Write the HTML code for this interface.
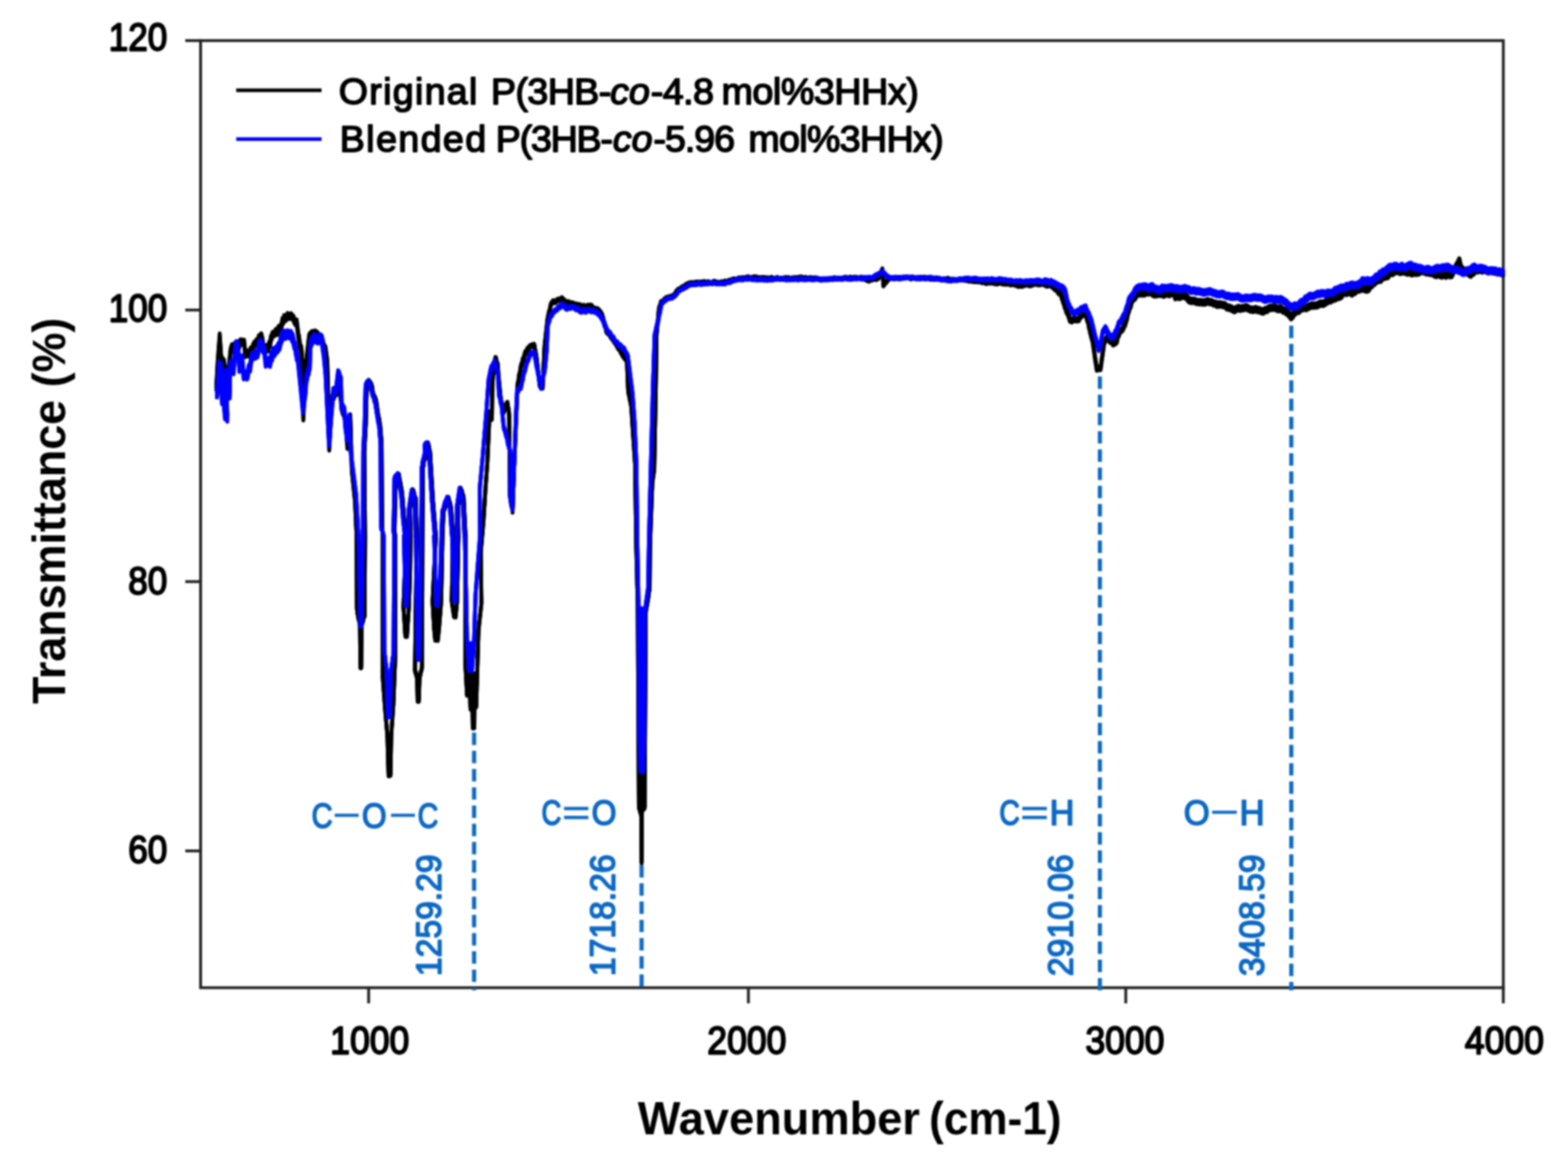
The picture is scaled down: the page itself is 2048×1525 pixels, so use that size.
<!DOCTYPE html>
<html lang="en"><head><meta charset="utf-8"><title>FTIR spectra</title>
<style>
html,body{margin:0;padding:0;background:#fff;width:2048px;height:1525px;overflow:hidden}
svg{display:block;filter:blur(0.8px)}
text{font-family:"Liberation Sans", Arial, Helvetica, sans-serif}
.tick{font-size:50px;fill:#000;stroke:#000;stroke-width:2.3px;paint-order:stroke;stroke-linejoin:round}
.leg{font-size:49px;fill:#000;stroke:#000;stroke-width:2px;paint-order:stroke;stroke-linejoin:round}
.ttl{font-weight:bold;fill:#000}
.ann{fill:#0d69c4;stroke:#0d69c4;stroke-width:2px;stroke-linejoin:round}
.annd{fill:#0d69c4;stroke:#0d69c4;stroke-width:0.9px}
</style></head><body>
<svg width="2048" height="1525" viewBox="0 0 2048 1525">
<rect width="2048" height="1525" fill="#fff"/>
<rect x="262" y="53" width="1701.5" height="1236.6" fill="none" stroke="#222" stroke-width="3.7"/>
<line x1="481.5" y1="1289.6" x2="481.5" y2="1310" stroke="#222" stroke-width="3.7"/>
<line x1="977.5" y1="1289.6" x2="977.5" y2="1310" stroke="#222" stroke-width="3.7"/>
<line x1="1470.4" y1="1289.6" x2="1470.4" y2="1310" stroke="#222" stroke-width="3.7"/>
<line x1="1963.5" y1="1289.6" x2="1963.5" y2="1310" stroke="#222" stroke-width="3.7"/>
<line x1="242" y1="53" x2="262" y2="53" stroke="#222" stroke-width="3.7"/>
<line x1="242" y1="404.8" x2="262" y2="404.8" stroke="#222" stroke-width="3.7"/>
<line x1="242" y1="759.4" x2="262" y2="759.4" stroke="#222" stroke-width="3.7"/>
<line x1="242" y1="1111" x2="262" y2="1111" stroke="#222" stroke-width="3.7"/>
<path d="M282.5,504.2 L284.5,468.7 L287.0,435.3 L288.8,463.4 L290.6,467.6 L292.5,469.4 L296.2,503.4 L301.2,454.8 L302.9,449.4 L304.6,450.9 L306.2,448.4 L308.3,445.7 L310.4,447.7 L312.5,448.1 L313.8,443.2 L315.0,442.9 L316.9,443.7 L318.8,443.4 L320.5,460.0 L322.8,457.5 L325.2,459.3 L327.5,453.7 L329.1,454.8 L330.6,449.2 L332.2,446.1 L333.8,445.1 L335.2,442.7 L336.8,443.4 L338.2,437.4 L339.8,437.5 L341.2,435.1 L341.7,436.5 L342.1,440.1 L342.5,439.7 L342.9,442.2 L343.3,445.5 L343.8,450.2 L345.8,450.2 L347.9,450.4 L350.0,452.5 L350.8,449.5 L351.6,446.1 L352.3,446.6 L353.1,443.5 L353.9,438.3 L354.7,437.7 L355.5,435.0 L356.2,433.2 L358.3,432.8 L360.4,429.4 L362.5,431.0 L363.8,425.6 L365.0,425.6 L366.2,425.7 L367.5,421.5 L368.2,420.0 L369.0,415.0 L369.8,416.6 L370.5,414.9 L371.2,411.2 L373.4,412.7 L375.6,408.7 L377.8,410.3 L380.0,408.8 L381.5,410.8 L383.0,411.8 L384.5,415.8 L386.0,418.2 L387.5,417.2 L390.0,437.7 L390.5,437.2 L391.1,443.5 L391.6,445.7 L392.1,450.3 L392.7,451.7 L393.2,451.0 L393.8,454.5 L395.5,480.2 L396.2,542.7 L398.8,479.7 L403.8,436.5 L405.6,433.8 L407.5,432.2 L409.4,435.2 L411.2,431.4 L413.4,432.3 L415.6,434.8 L417.8,439.2 L420.0,437.5 L420.8,440.5 L421.7,443.4 L422.5,447.7 L423.3,449.6 L424.2,452.2 L425.0,451.8 L427.5,469.6 L430.0,582.1 L433.8,515.4 L435.8,515.0 L437.9,510.1 L440.0,509.3 L442.5,489.4 L446.2,529.4 L447.1,532.2 L447.9,535.2 L448.8,536.4 L449.6,537.8 L450.4,542.0 L451.2,544.6 L453.8,579.9 L457.5,540.8 L459.5,611.0 L463.8,654.0 L465.8,699.2 L466.2,794.3 L466.7,794.7 L467.1,800.6 L467.6,802.6 L468.0,805.5 L468.5,807.7 L468.9,808.6 L469.4,811.1 L469.8,812.4 L470.2,816.7 L470.8,870.8 L471.8,870.8 L472.2,816.0 L473.1,812.6 L473.9,810.9 L474.6,807.2 L475.4,804.5 L476.2,803.4 L476.8,698.4 L475.9,588.8 L477.8,553.2 L479.0,502.1 L480.2,499.5 L481.5,495.9 L483.4,498.0 L485.2,501.3 L485.8,503.5 L486.2,505.0 L486.8,510.4 L487.2,513.5 L487.8,513.9 L488.7,516.4 L489.6,517.3 L490.6,519.9 L491.5,523.7 L494.0,541.1 L494.5,545.3 L495.0,545.1 L495.5,547.1 L496.0,553.3 L496.5,554.0 L498.5,578.4 L499.1,686.8 L500.0,698.2 L500.0,884.0 L503.0,924.8 L506.0,959.6 L507.5,1011.8 L510.0,1011.1 L511.0,958.8 L513.8,918.5 L516.2,856.9 L516.2,699.1 L515.4,693.4 L516.7,623.8 L518.1,620.9 L519.6,621.1 L521.0,618.6 L521.4,621.7 L521.8,624.0 L522.2,626.6 L522.6,628.8 L523.0,629.2 L523.4,632.9 L523.8,634.8 L524.2,636.0 L524.6,638.5 L525.0,642.0 L525.4,645.0 L527.9,677.0 L530.4,699.7 L527.0,791.4 L529.5,829.7 L531.5,829.8 L534.0,792.2 L535.5,748.8 L536.2,698.6 L535.4,663.7 L539.2,638.6 L540.1,640.4 L541.1,644.6 L542.0,648.2 L543.0,649.7 L544.2,698.9 L542.0,874.2 L542.7,877.7 L543.4,877.3 L544.1,882.1 L544.8,884.7 L545.5,914.5 L547.0,914.4 L548.0,884.0 L548.5,880.2 L549.1,880.2 L549.6,875.8 L550.2,875.2 L550.7,873.4 L551.2,868.8 L551.8,698.8 L552.3,609.8 L552.9,607.4 L553.4,602.7 L554.0,600.0 L554.5,597.6 L555.1,598.1 L555.6,595.2 L556.2,590.1 L556.7,589.5 L556.0,582.3 L557.5,580.3 L559.0,577.5 L559.5,580.2 L560.0,580.8 L560.5,582.6 L561.0,588.6 L561.5,589.2 L561.7,589.0 L565.5,652.3 L569.3,698.9 L565.0,784.6 L567.0,819.5 L568.5,834.8 L570.0,793.6 L571.8,834.9 L573.5,818.6 L576.2,784.1 L578.0,698.6 L579.3,666.5 L580.1,662.8 L580.8,663.6 L581.6,659.0 L582.4,657.1 L583.2,655.2 L584.0,654.2 L584.8,649.9 L585.5,648.5 L586.1,650.2 L586.6,652.6 L587.1,654.9 L587.7,655.2 L588.2,659.3 L588.8,660.6 L589.3,663.4 L591.8,699.4 L590.0,783.5 L593.0,804.0 L595.0,804.4 L597.0,784.1 L598.8,698.7 L598.1,661.7 L601.8,636.7 L602.6,640.2 L603.3,640.0 L604.1,644.4 L604.8,645.6 L605.6,648.8 L608.1,699.4 L608.0,869.0 L610.0,906.6 L613.0,879.4 L614.5,924.7 L616.5,878.9 L617.5,949.2 L619.5,949.0 L620.0,879.0 L622.0,921.8 L625.0,821.4 L628.8,786.6 L627.9,720.5 L631.6,677.4 L634.1,636.8 L636.6,601.8 L639.5,536.7 L640.2,537.2 L641.0,540.4 L641.8,544.0 L642.5,544.9 L643.0,503.7 L644.5,481.1 L644.9,479.2 L645.2,475.3 L645.6,473.7 L645.9,470.7 L646.3,470.8 L646.6,468.9 L647.0,466.1 L647.8,466.3 L648.5,470.7 L649.2,472.7 L650.0,473.6 L651.2,489.8 L653.8,517.4 L654.2,518.1 L654.7,523.5 L655.2,523.8 L655.6,526.6 L656.1,531.2 L656.6,533.0 L657.0,532.8 L657.5,536.6 L658.5,534.3 L659.5,531.1 L660.5,528.0 L661.5,526.0 L662.5,524.6 L662.9,524.8 L663.3,529.4 L663.8,531.5 L664.2,532.3 L664.6,536.0 L665.0,539.4 L666.2,646.7 L666.7,647.3 L667.1,653.3 L667.5,654.9 L667.9,658.0 L668.3,656.9 L668.7,659.8 L669.1,661.3 L669.5,665.9 L671.2,616.4 L673.8,553.6 L676.2,499.1 L676.7,498.4 L677.2,495.5 L677.7,490.8 L678.1,487.8 L678.6,488.4 L679.1,484.5 L679.5,482.5 L680.0,478.6 L680.7,475.0 L681.4,475.0 L682.1,471.4 L682.9,467.5 L683.6,468.5 L684.3,464.8 L685.0,462.2 L686.2,458.1 L687.5,459.2 L688.8,454.0 L690.0,455.2 L691.2,451.7 L693.3,449.9 L695.4,449.5 L697.5,448.7 L697.9,449.4 L698.3,451.2 L698.8,455.2 L699.2,456.4 L699.6,458.3 L700.0,461.2 L700.4,463.2 L700.8,466.0 L701.2,469.0 L705.0,501.5 L706.9,503.8 L708.8,504.0 L711.2,451.8 L715.0,416.4 L715.6,413.8 L716.1,410.3 L716.7,408.5 L717.2,405.3 L717.8,405.0 L718.3,401.9 L718.9,398.4 L719.4,396.7 L720.0,394.8 L722.5,391.9 L725.0,392.8 L727.5,390.5 L729.6,389.7 L731.7,389.9 L733.8,387.9 L735.8,389.8 L737.9,392.0 L740.0,393.7 L742.5,393.0 L745.0,394.9 L747.5,394.6 L750.0,395.7 L752.5,396.1 L755.0,396.9 L757.5,397.0 L760.0,398.9 L762.5,397.8 L765.0,399.5 L767.5,397.7 L770.0,397.7 L772.5,397.8 L775.0,401.0 L777.5,402.1 L780.0,402.1 L781.6,403.1 L783.1,404.9 L784.7,406.9 L786.2,409.3 L786.9,410.9 L787.6,414.2 L788.3,416.2 L789.0,420.8 L789.7,423.3 L790.4,424.5 L791.1,426.1 L791.8,430.8 L792.5,431.7 L794.0,433.3 L795.5,434.0 L797.0,437.0 L798.5,439.1 L800.0,441.0 L801.2,442.1 L802.5,445.1 L803.8,445.7 L805.0,448.6 L806.2,450.2 L807.5,453.4 L808.8,454.1 L810.0,456.1 L811.2,458.9 L812.5,460.7 L813.8,463.6 L815.4,465.3 L817.1,467.6 L818.8,468.7 L820.5,508.8 L821.0,512.2 L821.5,513.2 L822.0,515.5 L822.5,520.0 L823.0,520.0 L823.5,524.2 L824.0,526.5 L824.5,528.0 L827.0,566.5 L829.5,604.1 L831.0,709.7 L833.0,788.9 L834.5,1053.0 L835.2,1054.0 L836.0,1057.7 L836.8,1060.1 L837.5,1063.0 L838.0,1125.0 L838.5,1063.0 L838.0,798.7 L838.5,1057.1 L840.2,1055.2 L842.0,1052.9 L843.5,798.3 L843.9,794.8 L844.3,792.6 L844.7,790.8 L845.0,787.6 L845.4,787.4 L845.8,784.1 L846.2,781.8 L846.6,779.3 L847.0,777.0 L847.3,774.0 L847.7,770.1 L848.1,770.0 L848.5,767.0 L849.0,709.7 L852.0,628.7 L854.5,611.4 L856.5,508.2 L857.5,436.5 L860.5,403.4 L861.1,400.2 L861.8,398.5 L862.5,397.7 L863.1,393.8 L863.8,392.8 L865.8,392.4 L867.9,389.5 L870.0,387.9 L872.5,387.0 L875.0,386.5 L877.5,385.7 L880.0,384.4 L881.6,382.7 L883.1,379.8 L884.7,378.0 L886.2,376.6 L888.4,376.0 L890.6,373.9 L892.8,373.2 L895.0,371.4 L897.5,369.8 L900.0,368.9 L902.5,368.2 L905.0,368.3 L907.5,368.2 L910.0,367.4 L912.5,367.7 L915.0,367.6 L917.5,367.5 L920.0,366.8 L922.5,368.1 L925.0,367.1 L927.5,368.2 L930.0,368.1 L932.5,366.4 L935.0,367.2 L937.5,367.9 L940.0,368.1 L942.5,367.2 L945.0,367.1 L947.5,366.2 L950.0,366.9 L952.5,364.9 L955.0,364.9 L957.5,363.5 L960.0,363.6 L962.5,363.7 L965.0,362.0 L967.5,362.6 L970.0,361.7 L972.5,362.1 L975.0,361.2 L977.5,360.7 L980.0,362.0 L982.5,361.4 L985.0,360.7 L987.5,360.8 L990.0,361.8 L992.5,361.8 L995.0,361.7 L997.5,361.5 L1000.0,362.2 L1002.5,361.9 L1005.0,362.9 L1007.5,361.3 L1010.0,362.7 L1012.5,362.8 L1015.0,361.5 L1017.5,362.9 L1020.0,362.5 L1022.5,362.8 L1025.0,361.7 L1027.5,361.8 L1030.0,361.8 L1032.5,362.9 L1035.0,362.1 L1037.5,361.7 L1040.0,361.8 L1042.5,361.5 L1045.0,361.0 L1047.5,361.1 L1050.0,362.0 L1052.5,361.5 L1055.0,362.8 L1057.5,361.7 L1060.0,361.9 L1062.5,362.4 L1065.0,362.0 L1067.5,362.4 L1070.0,363.6 L1072.5,363.6 L1075.0,363.3 L1077.5,363.2 L1080.0,363.6 L1082.5,363.6 L1085.0,362.8 L1087.5,363.0 L1090.0,361.7 L1092.5,362.9 L1095.0,362.3 L1097.5,362.7 L1100.0,362.4 L1102.5,361.7 L1105.0,361.2 L1107.5,362.7 L1110.0,361.2 L1112.5,361.7 L1115.0,361.4 L1117.5,361.2 L1120.0,361.9 L1122.5,362.2 L1125.0,361.1 L1127.5,362.6 L1130.0,363.1 L1132.5,364.6 L1135.0,365.5 L1137.5,364.2 L1140.0,363.4 L1142.5,362.8 L1145.0,363.3 L1147.5,361.8 L1148.5,359.0 L1149.5,358.0 L1150.5,355.9 L1151.5,352.7 L1152.5,350.3 L1153.8,371.6 L1155.5,369.1 L1157.2,367.5 L1159.0,365.1 L1160.8,363.3 L1162.5,361.6 L1165.0,361.9 L1167.5,362.5 L1169.9,362.2 L1172.4,361.6 L1174.9,361.6 L1177.3,361.8 L1179.8,361.6 L1182.3,361.5 L1184.8,361.0 L1187.2,361.4 L1189.7,362.6 L1192.2,361.1 L1194.7,361.8 L1197.2,362.0 L1199.6,362.5 L1202.1,361.3 L1204.6,361.4 L1207.0,361.3 L1209.5,361.6 L1212.0,361.8 L1214.6,362.9 L1217.2,362.9 L1219.8,363.2 L1222.4,361.9 L1225.0,362.7 L1227.5,363.5 L1230.0,363.9 L1232.5,363.3 L1235.0,363.5 L1237.5,362.6 L1240.0,363.4 L1242.5,364.4 L1245.0,364.3 L1247.5,364.4 L1250.0,364.7 L1252.5,363.5 L1255.0,363.3 L1257.5,363.5 L1260.0,364.3 L1262.5,364.4 L1265.0,365.4 L1267.5,365.4 L1270.0,365.6 L1272.5,366.1 L1275.0,365.9 L1277.5,366.4 L1280.0,365.9 L1282.5,367.5 L1285.0,366.9 L1287.5,368.5 L1290.0,368.2 L1292.5,367.8 L1295.0,367.7 L1297.5,368.0 L1300.0,368.9 L1302.5,369.1 L1305.0,368.2 L1307.5,368.2 L1310.0,369.2 L1312.5,369.4 L1315.0,369.4 L1317.5,369.4 L1320.0,370.4 L1322.5,369.7 L1325.0,370.5 L1327.5,371.1 L1330.0,372.3 L1332.5,371.9 L1335.0,372.3 L1337.5,371.3 L1340.0,370.6 L1342.5,370.4 L1345.0,371.4 L1347.5,370.6 L1350.0,369.5 L1352.5,368.4 L1355.0,369.4 L1357.5,369.6 L1360.0,368.6 L1362.5,368.3 L1365.0,369.5 L1367.5,370.8 L1370.0,369.5 L1372.5,370.3 L1374.4,371.6 L1376.2,373.0 L1378.1,374.9 L1380.0,375.3 L1381.6,378.2 L1383.1,380.0 L1384.7,381.2 L1386.2,382.8 L1387.0,386.8 L1387.8,387.6 L1388.5,391.4 L1389.2,392.4 L1390.0,395.3 L1390.9,398.8 L1391.9,400.1 L1392.8,404.3 L1393.8,405.6 L1394.7,407.3 L1395.6,409.9 L1396.6,412.9 L1397.5,415.8 L1400.0,416.8 L1402.5,414.7 L1405.0,415.3 L1407.5,415.3 L1409.2,415.2 L1410.8,411.3 L1412.5,410.1 L1414.2,407.8 L1415.8,407.0 L1417.5,406.0 L1418.2,409.1 L1419.0,411.2 L1419.8,414.4 L1420.5,416.7 L1421.2,417.9 L1421.8,419.8 L1422.2,424.2 L1422.8,426.2 L1423.2,426.9 L1423.8,430.8 L1424.4,432.8 L1425.0,435.3 L1425.6,437.7 L1426.2,439.7 L1426.9,441.8 L1427.5,445.4 L1430.0,462.9 L1430.4,466.6 L1430.7,466.8 L1431.1,471.3 L1431.4,471.6 L1431.8,474.3 L1432.1,477.9 L1432.5,479.7 L1435.0,479.2 L1437.5,478.9 L1440.0,460.6 L1442.5,443.0 L1444.4,441.7 L1446.2,437.8 L1448.1,440.2 L1450.0,443.5 L1451.9,443.8 L1453.8,446.8 L1456.2,445.8 L1458.8,443.4 L1459.5,439.4 L1460.2,436.9 L1461.0,434.5 L1461.8,434.2 L1462.5,430.3 L1464.2,429.6 L1465.8,428.3 L1467.5,425.4 L1468.4,422.5 L1469.4,421.8 L1470.3,418.4 L1471.2,415.3 L1471.9,413.6 L1472.5,410.1 L1473.1,407.4 L1473.8,404.2 L1474.4,403.6 L1475.0,400.9 L1476.0,398.3 L1477.0,396.6 L1478.0,391.6 L1479.0,389.7 L1480.0,387.8 L1481.7,386.9 L1483.3,384.8 L1485.0,381.3 L1487.5,380.4 L1490.0,380.5 L1492.5,380.3 L1495.0,380.4 L1497.5,378.2 L1500.0,378.9 L1502.5,377.5 L1505.0,380.0 L1507.5,381.3 L1510.0,381.3 L1512.5,380.6 L1515.0,380.6 L1517.5,380.7 L1520.0,381.8 L1522.5,380.6 L1525.0,380.0 L1527.5,381.1 L1530.0,379.5 L1532.5,379.3 L1533.8,381.1 L1535.0,384.9 L1537.5,383.7 L1540.0,384.8 L1542.5,383.9 L1545.0,382.8 L1546.9,383.3 L1548.8,384.3 L1550.6,385.9 L1552.5,388.5 L1555.0,389.7 L1557.5,389.7 L1560.0,389.7 L1562.5,391.0 L1565.0,391.4 L1567.5,391.5 L1570.0,391.7 L1572.5,392.0 L1575.0,391.5 L1577.5,390.1 L1580.0,391.4 L1582.5,391.5 L1585.0,393.1 L1587.5,393.5 L1590.0,395.0 L1592.5,394.3 L1595.0,394.8 L1597.5,395.1 L1600.0,395.7 L1602.5,398.3 L1605.0,398.8 L1607.5,399.3 L1610.0,400.9 L1612.5,401.9 L1615.0,400.2 L1617.5,399.1 L1620.0,400.2 L1622.5,399.4 L1625.0,399.1 L1627.5,398.0 L1630.0,399.5 L1632.5,400.9 L1635.0,401.4 L1637.5,401.5 L1640.0,400.5 L1642.5,401.8 L1645.0,401.9 L1647.5,403.2 L1650.0,403.8 L1652.5,401.8 L1655.0,401.7 L1657.5,399.2 L1660.0,398.9 L1662.5,398.7 L1665.0,398.4 L1667.5,400.0 L1670.0,400.7 L1672.5,399.4 L1674.4,401.3 L1676.2,402.6 L1678.1,402.8 L1680.0,404.7 L1681.6,405.4 L1683.1,407.2 L1684.7,408.9 L1686.2,411.2 L1688.2,409.4 L1690.2,406.1 L1692.2,404.3 L1694.4,403.1 L1696.6,402.8 L1698.8,400.2 L1701.0,399.6 L1703.5,398.4 L1706.0,399.3 L1708.5,398.0 L1711.0,396.8 L1713.5,395.7 L1716.0,396.0 L1718.5,395.8 L1721.0,395.5 L1723.5,393.6 L1726.0,393.2 L1728.5,393.8 L1731.0,392.1 L1733.5,390.5 L1736.0,389.3 L1738.5,389.0 L1741.0,387.1 L1743.5,386.8 L1746.0,385.4 L1748.5,384.7 L1750.4,384.2 L1752.2,383.0 L1754.1,379.8 L1756.0,378.2 L1758.5,379.5 L1761.0,378.4 L1763.5,378.2 L1766.0,380.2 L1767.9,378.4 L1769.8,378.1 L1771.6,375.8 L1773.5,375.2 L1776.0,374.7 L1778.5,373.9 L1781.0,373.5 L1783.5,374.9 L1786.0,374.9 L1787.9,374.0 L1789.8,370.0 L1791.6,369.5 L1793.5,367.2 L1795.4,366.1 L1797.2,363.9 L1799.1,363.0 L1801.0,362.3 L1803.5,362.2 L1806.0,358.8 L1808.5,358.5 L1811.0,357.6 L1813.0,357.3 L1815.0,354.0 L1817.0,352.6 L1819.0,353.5 L1821.0,351.5 L1823.5,351.0 L1826.0,349.9 L1828.5,352.2 L1831.0,350.8 L1833.5,351.5 L1836.0,351.9 L1838.5,352.9 L1841.0,351.7 L1843.5,353.8 L1846.0,353.3 L1848.5,352.7 L1851.0,353.2 L1853.5,352.5 L1856.0,350.7 L1858.5,350.8 L1861.0,351.8 L1863.5,352.6 L1866.0,352.7 L1868.5,353.2 L1871.0,353.4 L1873.5,355.1 L1876.0,356.1 L1878.5,354.4 L1881.0,356.1 L1883.5,356.7 L1886.0,354.8 L1888.5,356.9 L1891.0,355.1 L1893.5,356.3 L1896.0,356.1 L1897.2,354.0 L1898.5,350.9 L1899.8,348.8 L1901.0,346.9 L1902.2,344.1 L1903.5,342.4 L1904.8,339.5 L1906.0,337.2 L1906.6,338.6 L1907.2,342.6 L1907.9,344.8 L1908.5,347.0 L1910.6,349.4 L1912.7,350.9 L1914.8,351.6 L1916.8,352.3 L1918.9,354.5 L1921.0,355.6 L1922.9,353.5 L1924.8,352.7 L1926.6,350.3 L1928.5,349.7 L1931.0,349.8 L1933.5,348.6 L1936.0,350.2 L1938.5,348.7 L1941.0,350.0 L1943.5,350.9 L1946.0,350.7 L1948.5,349.9 L1951.0,351.5 L1953.5,351.6 L1956.0,352.8 L1958.2,351.4 L1960.5,353.2 L1962.8,353.6 L1965.0,352.3" fill="none" stroke="#000" stroke-width="5" stroke-linejoin="round" stroke-linecap="butt"/>
<path d="M282.5,507.4 L284.5,471.9 L287.0,438.5 L288.8,466.6 L290.6,470.8 L292.5,472.6 L296.2,506.6 L301.2,458.0 L302.9,452.6 L304.6,454.1 L306.2,451.6 L308.3,448.9 L310.4,450.9 L312.5,451.3 L313.8,446.4 L315.0,446.1 L316.9,446.9 L318.8,446.6 L320.5,463.2 L322.8,460.7 L325.2,462.5 L327.5,456.9 L329.1,458.0 L330.6,452.4 L332.2,449.3 L333.8,448.3 L335.2,445.9 L336.8,446.6 L338.2,440.6 L339.8,440.7 L341.2,438.3 L341.7,439.7 L342.1,443.3 L342.5,442.9 L342.9,445.4 L343.3,448.7 L343.8,453.4 L345.8,453.4 L347.9,453.6 L350.0,455.7 L350.8,452.7 L351.6,449.3 L352.3,449.8 L353.1,446.7 L353.9,441.5 L354.7,440.9 L355.5,438.2 L356.2,436.4 L358.3,436.0 L360.4,432.6 L362.5,434.2 L363.8,428.8 L365.0,428.8 L366.2,428.9 L367.5,424.7 L368.2,423.2 L369.0,418.2 L369.8,419.8 L370.5,418.1 L371.2,414.4 L373.4,415.9 L375.6,411.9 L377.8,413.5 L380.0,412.0 L381.5,414.0 L383.0,415.0 L384.5,419.0 L386.0,421.4 L387.5,420.4 L390.0,440.9 L390.5,440.4 L391.1,446.7 L391.6,448.9 L392.1,453.5 L392.7,454.9 L393.2,454.2 L393.8,457.7 L395.5,483.4 L396.2,545.9 L398.8,482.9 L403.8,439.7 L405.6,437.0 L407.5,435.4 L409.4,438.4 L411.2,434.6 L413.4,435.5 L415.6,438.0 L417.8,442.4 L420.0,440.7 L420.8,443.7 L421.7,446.6 L422.5,450.9 L423.3,452.8 L424.2,455.4 L425.0,455.0 L427.5,472.8 L430.0,585.3 L433.8,518.6 L435.8,518.2 L437.9,513.3 L440.0,512.5 L442.5,492.6 L446.2,532.6 L447.1,535.4 L447.9,538.4 L448.8,539.6 L449.6,541.0 L450.4,545.2 L451.2,547.8 L453.8,583.1 L457.5,543.2 L459.5,612.8 L463.8,655.0 L465.8,700.2 L466.2,795.3 L466.7,795.7 L467.1,801.6 L467.6,803.6 L468.0,806.5 L468.5,808.7 L468.9,809.6 L469.4,812.1 L469.8,813.4 L470.2,817.7 L470.8,871.8 L471.8,871.8 L472.2,817.0 L473.1,813.6 L473.9,811.9 L474.6,808.2 L475.4,805.5 L476.2,804.4 L476.8,699.4 L475.9,589.8 L477.8,554.2 L479.0,503.1 L480.2,500.5 L481.5,496.9 L483.4,499.0 L485.2,502.3 L485.8,504.5 L486.2,506.0 L486.8,511.4 L487.2,514.5 L487.8,514.9 L488.7,517.4 L489.6,518.3 L490.6,520.9 L491.5,524.7 L494.0,542.1 L494.5,546.3 L495.0,546.1 L495.5,548.1 L496.0,554.3 L496.5,555.0 L498.5,579.4 L499.1,687.8 L500.0,699.2 L500.0,885.0 L503.0,925.8 L506.0,960.6 L507.5,1012.8 L510.0,1012.1 L511.0,959.8 L513.8,919.5 L516.2,857.9 L516.2,700.1 L515.4,694.4 L516.7,624.8 L518.1,621.9 L519.6,622.1 L521.0,619.6 L521.4,622.7 L521.8,625.0 L522.2,627.6 L522.6,629.8 L523.0,630.2 L523.4,633.9 L523.8,635.8 L524.2,637.0 L524.6,639.5 L525.0,643.0 L525.4,646.0 L527.9,678.0 L530.4,700.7 L527.0,792.4 L529.5,830.7 L531.5,830.8 L534.0,793.2 L535.5,749.8 L536.2,699.6 L535.4,664.7 L539.2,639.6 L540.1,641.4 L541.1,645.6 L542.0,649.2 L543.0,650.7 L544.2,699.9 L542.0,875.2 L542.7,878.7 L543.4,878.3 L544.1,883.1 L544.8,885.7 L545.5,915.5 L547.0,915.4 L548.0,885.0 L548.5,881.2 L549.1,881.2 L549.6,876.8 L550.2,876.2 L550.7,874.4 L551.2,869.8 L551.8,699.8 L552.3,610.8 L552.9,608.4 L553.4,603.7 L554.0,601.0 L554.5,598.6 L555.1,599.1 L555.6,596.2 L556.2,591.1 L556.7,590.5 L556.0,583.3 L557.5,581.3 L559.0,578.5 L559.5,581.2 L560.0,581.8 L560.5,583.6 L561.0,589.6 L561.5,590.2 L561.7,590.0 L565.5,653.3 L569.3,699.9 L565.0,785.6 L567.0,820.5 L568.5,835.8 L570.0,794.6 L571.8,835.9 L573.5,819.6 L576.2,785.1 L578.0,699.6 L579.3,667.5 L580.1,663.8 L580.8,664.6 L581.6,660.0 L582.4,658.1 L583.2,656.2 L584.0,655.2 L584.8,650.9 L585.5,649.5 L586.1,651.2 L586.6,653.6 L587.1,655.9 L587.7,656.2 L588.2,660.3 L588.8,661.6 L589.3,664.4 L591.8,700.4 L590.0,784.5 L593.0,805.0 L595.0,805.4 L597.0,785.1 L598.8,699.7 L598.1,662.7 L601.8,637.7 L602.6,641.2 L603.3,641.0 L604.1,645.4 L604.8,646.6 L605.6,649.8 L608.1,700.4 L608.0,870.0 L610.0,907.6 L613.0,880.4 L614.5,925.7 L616.5,879.9 L617.5,950.2 L619.5,950.0 L620.0,880.0 L622.0,922.8 L625.0,822.4 L628.8,787.6 L627.9,721.5 L631.6,678.4 L634.1,637.9 L636.6,603.1 L639.5,538.2 L640.2,538.7 L641.0,542.0 L641.8,545.6 L642.5,546.5 L643.0,505.4 L644.5,482.9 L644.9,480.9 L645.2,477.1 L645.6,475.5 L645.9,472.5 L646.3,472.6 L646.6,470.7 L647.0,467.9 L647.8,468.1 L648.5,472.5 L649.2,474.5 L650.0,475.4 L651.2,491.6 L653.8,519.2 L654.2,519.9 L654.7,525.3 L655.2,525.6 L655.6,528.4 L656.1,533.0 L656.6,534.8 L657.0,534.6 L657.5,538.4 L658.5,536.1 L659.5,532.9 L660.5,529.8 L661.5,527.8 L662.5,526.4 L662.9,526.6 L663.3,531.2 L663.8,533.3 L664.2,534.1 L664.6,537.8 L665.0,541.2 L666.2,648.5 L666.7,649.1 L667.1,655.1 L667.5,656.7 L667.9,659.8 L668.3,658.6 L668.7,661.6 L669.1,663.1 L669.5,667.7 L671.2,618.1 L673.8,555.4 L676.2,500.9 L676.7,500.1 L677.2,497.3 L677.7,492.5 L678.1,489.6 L678.6,490.2 L679.1,486.3 L679.5,484.3 L680.0,480.3 L680.7,476.7 L681.4,476.8 L682.1,473.2 L682.9,469.3 L683.6,470.3 L684.3,466.5 L685.0,464.0 L686.2,459.8 L687.5,460.9 L688.8,455.8 L690.0,457.0 L691.2,453.4 L693.3,451.6 L695.4,451.2 L697.5,450.4 L697.9,451.2 L698.3,453.0 L698.8,456.9 L699.2,458.1 L699.6,460.0 L700.0,462.9 L700.4,464.9 L700.8,467.7 L701.2,470.8 L705.0,503.3 L706.9,505.5 L708.8,505.7 L711.2,453.5 L715.0,418.1 L715.6,415.5 L716.1,412.1 L716.7,410.3 L717.2,407.0 L717.8,406.7 L718.3,403.7 L718.9,400.1 L719.4,398.4 L720.0,396.5 L722.5,393.6 L725.0,394.5 L727.5,392.2 L729.6,391.4 L731.7,391.6 L733.8,389.6 L735.8,391.4 L737.9,393.6 L740.0,395.3 L742.5,394.7 L745.0,396.6 L747.5,396.2 L750.0,397.4 L752.5,397.7 L755.0,398.5 L757.5,398.7 L760.0,400.6 L762.5,399.4 L765.0,401.1 L767.5,399.3 L770.0,399.3 L772.5,399.4 L775.0,402.6 L777.5,403.7 L780.0,403.7 L781.6,404.7 L783.1,406.5 L784.7,408.5 L786.2,411.0 L786.9,412.5 L787.6,415.8 L788.3,417.8 L789.0,422.4 L789.7,424.9 L790.4,426.1 L791.1,427.7 L791.8,432.4 L792.5,433.3 L794.0,434.9 L795.5,435.6 L797.0,438.5 L798.5,440.6 L800.0,442.5 L801.2,443.7 L802.5,446.7 L803.8,447.3 L805.0,450.1 L806.2,451.7 L807.5,454.9 L808.8,455.6 L810.0,457.6 L811.2,460.4 L812.5,462.2 L813.8,465.1 L815.4,466.8 L817.1,469.1 L818.8,470.2 L820.5,510.3 L821.0,513.6 L821.5,514.7 L822.0,517.0 L822.5,521.5 L823.0,521.4 L823.5,525.7 L824.0,527.9 L824.5,529.5 L827.0,567.9 L829.5,605.5 L831.0,711.2 L833.0,790.3 L834.5,1054.4 L835.2,1055.4 L836.0,1059.1 L836.8,1061.5 L837.5,1064.4 L838.0,1126.4 L838.5,1064.4 L838.0,800.1 L838.5,1058.5 L840.2,1056.5 L842.0,1054.2 L843.5,799.7 L843.9,796.1 L844.3,794.0 L844.7,792.2 L845.0,789.0 L845.4,788.7 L845.8,785.4 L846.2,783.2 L846.6,780.7 L847.0,778.4 L847.3,775.4 L847.7,771.4 L848.1,771.4 L848.5,768.3 L849.0,711.0 L852.0,630.0 L854.5,612.7 L856.5,509.5 L857.5,437.8 L860.5,404.7 L861.1,401.5 L861.8,399.8 L862.5,398.9 L863.1,395.1 L863.8,394.0 L865.8,393.7 L867.9,390.7 L870.0,389.2 L872.5,388.3 L875.0,387.7 L877.5,386.9 L880.0,385.6 L881.6,383.9 L883.1,381.0 L884.7,379.2 L886.2,377.8 L888.4,377.2 L890.6,375.1 L892.8,374.4 L895.0,372.6 L897.5,371.0 L900.0,370.1 L902.5,369.4 L905.0,369.5 L907.5,369.4 L910.0,368.6 L912.5,368.9 L915.0,368.8 L917.5,368.7 L920.0,368.0 L922.5,369.3 L925.0,368.3 L927.5,369.4 L930.0,369.3 L932.5,367.6 L935.0,368.4 L937.5,369.1 L940.0,369.3 L942.5,368.4 L945.0,368.3 L947.5,367.4 L950.0,368.1 L952.5,366.1 L955.0,366.1 L957.5,364.7 L960.0,364.8 L962.5,364.9 L965.0,363.2 L967.5,363.8 L970.0,362.9 L972.5,363.3 L975.0,362.4 L977.5,361.9 L980.0,363.2 L982.5,362.6 L985.0,361.9 L987.5,362.0 L990.0,363.0 L992.5,363.0 L995.0,362.9 L997.5,362.7 L1000.0,363.4 L1002.5,363.1 L1005.0,364.1 L1007.5,362.5 L1010.0,363.9 L1012.5,364.0 L1015.0,362.7 L1017.5,364.1 L1020.0,363.7 L1022.5,364.0 L1025.0,362.9 L1027.5,363.0 L1030.0,363.0 L1032.5,364.1 L1035.0,363.3 L1037.5,362.9 L1040.0,363.0 L1042.5,362.7 L1045.0,362.2 L1047.5,362.3 L1050.0,363.2 L1052.5,362.7 L1055.0,364.0 L1057.5,362.9 L1060.0,363.1 L1062.5,363.6 L1065.0,363.2 L1067.5,363.6 L1070.0,364.8 L1072.5,364.8 L1075.0,364.5 L1077.5,364.4 L1080.0,364.8 L1082.5,364.8 L1085.0,364.0 L1087.5,364.2 L1090.0,362.9 L1092.5,364.1 L1095.0,363.5 L1097.5,363.9 L1100.0,363.6 L1102.5,362.9 L1105.0,362.4 L1107.5,363.9 L1110.0,362.4 L1112.5,362.9 L1115.0,362.6 L1117.5,362.4 L1120.0,363.1 L1122.5,363.4 L1125.0,362.3 L1127.5,363.8 L1130.0,364.3 L1132.5,365.8 L1135.0,366.7 L1137.5,365.4 L1140.0,364.6 L1142.5,364.0 L1145.0,364.5 L1147.5,363.0 L1148.5,360.2 L1149.5,359.2 L1150.5,357.1 L1151.5,353.9 L1152.5,351.5 L1153.8,372.8 L1155.5,370.3 L1157.2,368.7 L1159.0,366.3 L1160.8,364.5 L1162.5,362.8 L1165.0,363.1 L1167.5,363.7 L1169.9,363.4 L1172.4,362.8 L1174.9,362.8 L1177.3,363.0 L1179.8,362.8 L1182.3,362.7 L1184.8,362.2 L1187.2,362.6 L1189.7,363.8 L1192.2,362.3 L1194.7,363.0 L1197.2,363.2 L1199.6,363.7 L1202.1,362.5 L1204.6,362.6 L1207.0,362.5 L1209.5,362.8 L1212.0,363.0 L1214.6,364.1 L1217.2,364.1 L1219.8,364.4 L1222.4,363.1 L1225.0,363.9 L1227.5,364.7 L1230.0,365.1 L1232.5,364.5 L1235.0,364.7 L1237.5,363.8 L1240.0,364.6 L1242.5,365.6 L1245.0,365.5 L1247.5,365.6 L1250.0,365.9 L1252.5,364.7 L1255.0,364.5 L1257.5,364.7 L1260.0,365.5 L1262.5,365.6 L1265.0,366.6 L1267.5,366.6 L1270.0,366.8 L1272.5,367.3 L1275.0,367.1 L1277.5,367.6 L1280.0,367.1 L1282.5,368.7 L1285.0,368.1 L1287.5,369.7 L1290.0,369.4 L1292.5,369.0 L1295.0,368.9 L1297.5,369.2 L1300.0,370.1 L1302.5,370.3 L1305.0,369.4 L1307.5,369.4 L1310.0,370.4 L1312.5,370.6 L1315.0,370.6 L1317.5,370.6 L1320.0,371.6 L1322.5,370.9 L1325.0,371.7 L1327.5,372.3 L1330.0,373.5 L1332.5,373.1 L1335.0,373.5 L1337.5,372.5 L1340.0,371.8 L1342.5,371.6 L1345.0,372.7 L1347.5,372.0 L1350.0,370.9 L1352.5,370.0 L1355.0,371.0 L1357.5,371.2 L1360.0,370.3 L1362.5,370.0 L1365.0,371.4 L1367.5,372.7 L1370.0,371.5 L1372.5,372.3 L1374.4,373.6 L1376.2,375.1 L1378.1,377.0 L1380.0,377.5 L1381.6,380.4 L1383.1,382.2 L1384.7,383.4 L1386.2,385.0 L1387.0,389.0 L1387.8,389.8 L1388.5,393.6 L1389.2,394.6 L1390.0,397.5 L1390.9,401.0 L1391.9,402.3 L1392.8,406.5 L1393.8,407.8 L1394.7,409.5 L1395.6,412.1 L1396.6,415.1 L1397.5,418.0 L1400.0,419.0 L1402.5,416.9 L1405.0,417.5 L1407.5,417.5 L1409.2,417.4 L1410.8,413.5 L1412.5,412.3 L1414.2,410.0 L1415.8,409.2 L1417.5,408.2 L1418.2,411.3 L1419.0,413.4 L1419.8,416.6 L1420.5,418.9 L1421.2,420.1 L1421.8,422.0 L1422.2,426.4 L1422.8,428.4 L1423.2,429.1 L1423.8,433.0 L1424.4,435.0 L1425.0,437.5 L1425.6,439.9 L1426.2,441.9 L1426.9,444.0 L1427.5,447.6 L1430.0,465.1 L1430.4,468.8 L1430.7,469.0 L1431.1,473.5 L1431.4,473.8 L1431.8,476.5 L1432.1,480.1 L1432.5,481.9 L1435.0,481.4 L1437.5,481.1 L1440.0,462.8 L1442.5,445.2 L1444.4,443.9 L1446.2,440.0 L1448.1,442.4 L1450.0,445.7 L1451.9,446.0 L1453.8,449.0 L1456.2,448.0 L1458.8,445.6 L1459.5,441.6 L1460.2,439.1 L1461.0,436.7 L1461.8,436.4 L1462.5,432.5 L1464.2,431.8 L1465.8,430.5 L1467.5,427.6 L1468.4,424.7 L1469.4,424.0 L1470.3,420.6 L1471.2,417.6 L1471.9,415.9 L1472.5,412.3 L1473.1,409.7 L1473.8,406.5 L1474.4,406.0 L1475.0,403.2 L1476.0,400.6 L1477.0,399.0 L1478.0,394.1 L1479.0,392.1 L1480.0,390.3 L1481.7,389.4 L1483.3,387.3 L1485.0,383.9 L1487.5,383.1 L1490.0,383.2 L1492.5,383.1 L1495.0,383.2 L1497.5,381.1 L1500.0,381.9 L1502.5,380.5 L1505.0,383.0 L1507.5,384.3 L1510.0,384.3 L1512.5,383.6 L1515.0,383.6 L1517.5,383.7 L1520.0,384.8 L1522.5,383.6 L1525.0,383.0 L1527.5,384.1 L1530.0,382.5 L1532.5,382.3 L1533.8,384.1 L1535.0,387.9 L1537.5,386.7 L1540.0,387.8 L1542.5,386.9 L1545.0,385.8 L1546.9,386.3 L1548.8,387.3 L1550.6,388.9 L1552.5,391.5 L1555.0,392.7 L1557.5,392.7 L1560.0,392.7 L1562.5,394.0 L1565.0,394.4 L1567.5,394.5 L1570.0,394.7 L1572.5,395.0 L1575.0,394.5 L1577.5,393.1 L1580.0,394.4 L1582.5,394.5 L1585.0,396.1 L1587.5,396.5 L1590.0,398.0 L1592.5,397.3 L1595.0,397.8 L1597.5,398.1 L1600.0,398.7 L1602.5,401.3 L1605.0,401.8 L1607.5,402.3 L1610.0,403.9 L1612.5,404.9 L1615.0,403.2 L1617.5,402.1 L1620.0,403.2 L1622.5,402.4 L1625.0,402.1 L1627.5,401.0 L1630.0,402.5 L1632.5,403.9 L1635.0,404.4 L1637.5,404.5 L1640.0,403.5 L1642.5,404.8 L1645.0,404.9 L1647.5,406.2 L1650.0,406.8 L1652.5,404.8 L1655.0,404.7 L1657.5,402.2 L1660.0,401.9 L1662.5,401.7 L1665.0,401.4 L1667.5,403.0 L1670.0,403.7 L1672.5,402.4 L1674.4,404.3 L1676.2,405.6 L1678.1,405.8 L1680.0,407.7 L1681.6,408.4 L1683.1,410.2 L1684.7,411.9 L1686.2,414.2 L1688.2,412.4 L1690.2,409.1 L1692.2,407.3 L1694.4,406.1 L1696.6,405.8 L1698.8,403.2 L1701.0,402.6 L1703.5,401.4 L1706.0,402.3 L1708.5,401.0 L1711.0,399.8 L1713.5,398.7 L1716.0,399.0 L1718.5,398.8 L1721.0,398.5 L1723.5,396.6 L1726.0,396.2 L1728.5,396.8 L1731.0,395.1 L1733.5,393.5 L1736.0,392.3 L1738.5,392.0 L1741.0,390.1 L1743.5,389.8 L1746.0,388.4 L1748.5,387.7 L1750.4,387.2 L1752.2,386.0 L1754.1,382.8 L1756.0,381.2 L1758.5,382.5 L1761.0,381.4 L1763.5,381.2 L1766.0,383.2 L1767.9,381.4 L1769.8,381.1 L1771.6,378.8 L1773.5,378.2 L1776.0,377.7 L1778.5,376.9 L1781.0,376.5 L1783.5,377.9 L1786.0,377.9 L1787.9,377.0 L1789.8,373.0 L1791.6,372.5 L1793.5,370.2 L1795.4,369.1 L1797.2,366.9 L1799.1,366.0 L1801.0,365.3 L1803.5,365.2 L1806.0,361.8 L1808.5,361.5 L1811.0,360.6 L1813.0,360.3 L1815.0,357.0 L1817.0,355.6 L1819.0,356.5 L1821.0,354.5 L1823.5,354.0 L1826.0,352.9 L1828.5,355.2 L1831.0,353.8 L1833.5,354.5 L1836.0,354.9 L1838.5,355.9 L1841.0,354.7 L1843.5,356.8 L1846.0,356.3 L1848.5,355.7 L1851.0,356.2 L1853.5,355.5 L1856.0,353.7 L1858.5,353.8 L1861.0,354.8 L1863.5,355.6 L1866.0,355.7 L1868.5,356.2 L1871.0,356.4 L1873.5,358.1 L1876.0,359.1 L1878.5,357.4 L1881.0,359.1 L1883.5,359.7 L1886.0,357.8 L1888.5,359.9 L1891.0,358.1 L1893.5,359.3 L1896.0,359.1 L1897.2,357.0 L1898.5,353.9 L1899.8,351.8 L1901.0,349.9 L1902.2,347.1 L1903.5,345.4 L1904.8,342.5 L1906.0,340.2 L1906.6,341.6 L1907.2,345.6 L1907.9,347.8 L1908.5,350.0 L1910.6,352.4 L1912.7,353.9 L1914.8,354.6 L1916.8,355.3 L1918.9,357.5 L1921.0,358.6 L1922.9,356.5 L1924.8,355.7 L1926.6,353.3 L1928.5,352.7 L1931.0,352.8 L1933.5,351.6 L1936.0,353.2 L1938.5,351.7 L1941.0,353.0 L1943.5,353.9 L1946.0,353.7 L1948.5,352.9 L1951.0,354.5 L1953.5,354.6 L1956.0,355.8 L1958.2,354.4 L1960.5,356.2 L1962.8,356.6 L1965.0,355.3" fill="none" stroke="#000" stroke-width="5" stroke-linejoin="round" stroke-linecap="butt"/>
<path d="M282.5,510.6 L284.5,475.1 L287.0,441.7 L288.8,469.8 L290.6,474.0 L292.5,475.8 L296.2,509.8 L301.2,461.2 L302.9,455.8 L304.6,457.3 L306.2,454.8 L308.3,452.1 L310.4,454.1 L312.5,454.5 L313.8,449.6 L315.0,449.3 L316.9,450.1 L318.8,449.8 L320.5,466.4 L322.8,463.9 L325.2,465.7 L327.5,460.1 L329.1,461.2 L330.6,455.6 L332.2,452.5 L333.8,451.5 L335.2,449.1 L336.8,449.8 L338.2,443.8 L339.8,443.9 L341.2,441.5 L341.7,442.9 L342.1,446.5 L342.5,446.1 L342.9,448.6 L343.3,451.9 L343.8,456.6 L345.8,456.6 L347.9,456.8 L350.0,458.9 L350.8,455.9 L351.6,452.5 L352.3,453.0 L353.1,449.9 L353.9,444.7 L354.7,444.1 L355.5,441.4 L356.2,439.6 L358.3,439.2 L360.4,435.8 L362.5,437.4 L363.8,432.0 L365.0,432.0 L366.2,432.1 L367.5,427.9 L368.2,426.4 L369.0,421.4 L369.8,423.0 L370.5,421.3 L371.2,417.6 L373.4,419.1 L375.6,415.1 L377.8,416.7 L380.0,415.2 L381.5,417.2 L383.0,418.2 L384.5,422.2 L386.0,424.6 L387.5,423.6 L390.0,444.1 L390.5,443.6 L391.1,449.9 L391.6,452.1 L392.1,456.7 L392.7,458.1 L393.2,457.4 L393.8,460.9 L395.5,486.6 L396.2,549.1 L398.8,486.1 L403.8,442.9 L405.6,440.2 L407.5,438.6 L409.4,441.6 L411.2,437.8 L413.4,438.7 L415.6,441.2 L417.8,445.6 L420.0,443.9 L420.8,446.9 L421.7,449.8 L422.5,454.1 L423.3,456.0 L424.2,458.6 L425.0,458.2 L427.5,476.0 L430.0,588.5 L433.8,521.8 L435.8,521.4 L437.9,516.5 L440.0,515.7 L442.5,495.8 L446.2,535.8 L447.1,538.6 L447.9,541.6 L448.8,542.8 L449.6,544.2 L450.4,548.4 L451.2,551.0 L453.8,586.3 L457.5,545.6 L459.5,614.6 L463.8,656.0 L465.8,701.2 L466.2,796.3 L466.7,796.7 L467.1,802.6 L467.6,804.6 L468.0,807.5 L468.5,809.7 L468.9,810.6 L469.4,813.1 L469.8,814.4 L470.2,818.7 L470.8,872.8 L471.8,872.8 L472.2,818.0 L473.1,814.6 L473.9,812.9 L474.6,809.2 L475.4,806.5 L476.2,805.4 L476.8,700.4 L475.9,590.8 L477.8,555.2 L479.0,504.1 L480.2,501.5 L481.5,497.9 L483.4,500.0 L485.2,503.3 L485.8,505.5 L486.2,507.0 L486.8,512.4 L487.2,515.5 L487.8,515.9 L488.7,518.4 L489.6,519.3 L490.6,521.9 L491.5,525.7 L494.0,543.1 L494.5,547.3 L495.0,547.1 L495.5,549.1 L496.0,555.3 L496.5,556.0 L498.5,580.4 L499.1,688.8 L500.0,700.2 L500.0,886.0 L503.0,926.8 L506.0,961.6 L507.5,1013.8 L510.0,1013.1 L511.0,960.8 L513.8,920.5 L516.2,858.9 L516.2,701.1 L515.4,695.4 L516.7,625.8 L518.1,622.9 L519.6,623.1 L521.0,620.6 L521.4,623.7 L521.8,626.0 L522.2,628.6 L522.6,630.8 L523.0,631.2 L523.4,634.9 L523.8,636.8 L524.2,638.0 L524.6,640.5 L525.0,644.0 L525.4,647.0 L527.9,679.0 L530.4,701.7 L527.0,793.4 L529.5,831.7 L531.5,831.8 L534.0,794.2 L535.5,750.8 L536.2,700.6 L535.4,665.7 L539.2,640.6 L540.1,642.4 L541.1,646.6 L542.0,650.2 L543.0,651.7 L544.2,700.9 L542.0,876.2 L542.7,879.7 L543.4,879.3 L544.1,884.1 L544.8,886.7 L545.5,916.5 L547.0,916.4 L548.0,886.0 L548.5,882.2 L549.1,882.2 L549.6,877.8 L550.2,877.2 L550.7,875.4 L551.2,870.8 L551.8,700.8 L552.3,611.8 L552.9,609.4 L553.4,604.7 L554.0,602.0 L554.5,599.6 L555.1,600.1 L555.6,597.2 L556.2,592.1 L556.7,591.5 L556.0,584.3 L557.5,582.3 L559.0,579.5 L559.5,582.2 L560.0,582.8 L560.5,584.6 L561.0,590.6 L561.5,591.2 L561.7,591.0 L565.5,654.3 L569.3,700.9 L565.0,786.6 L567.0,821.5 L568.5,836.8 L570.0,795.6 L571.8,836.9 L573.5,820.6 L576.2,786.1 L578.0,700.6 L579.3,668.5 L580.1,664.8 L580.8,665.6 L581.6,661.0 L582.4,659.1 L583.2,657.2 L584.0,656.2 L584.8,651.9 L585.5,650.5 L586.1,652.2 L586.6,654.6 L587.1,656.9 L587.7,657.2 L588.2,661.3 L588.8,662.6 L589.3,665.4 L591.8,701.4 L590.0,785.5 L593.0,806.0 L595.0,806.4 L597.0,786.1 L598.8,700.7 L598.1,663.7 L601.8,638.7 L602.6,642.2 L603.3,642.0 L604.1,646.4 L604.8,647.6 L605.6,650.8 L608.1,701.4 L608.0,871.0 L610.0,908.6 L613.0,881.4 L614.5,926.7 L616.5,880.9 L617.5,951.2 L619.5,951.0 L620.0,881.0 L622.0,923.8 L625.0,823.4 L628.8,788.6 L627.9,722.5 L631.6,679.4 L634.1,639.0 L636.6,604.4 L639.5,539.7 L640.2,540.2 L641.0,543.5 L641.8,547.2 L642.5,548.2 L643.0,507.1 L644.5,484.7 L644.9,482.7 L645.2,478.9 L645.6,477.3 L645.9,474.3 L646.3,474.4 L646.6,472.5 L647.0,469.7 L647.8,469.9 L648.5,474.3 L649.2,476.3 L650.0,477.2 L651.2,493.4 L653.8,521.0 L654.2,521.7 L654.7,527.1 L655.2,527.4 L655.6,530.2 L656.1,534.8 L656.6,536.6 L657.0,536.4 L657.5,540.2 L658.5,537.9 L659.5,534.7 L660.5,531.6 L661.5,529.6 L662.5,528.2 L662.9,528.4 L663.3,533.0 L663.8,535.1 L664.2,535.9 L664.6,539.6 L665.0,543.0 L666.2,650.3 L666.7,650.9 L667.1,656.9 L667.5,658.5 L667.9,661.5 L668.3,660.4 L668.7,663.4 L669.1,664.9 L669.5,669.5 L671.2,619.9 L673.8,557.2 L676.2,502.7 L676.7,501.9 L677.2,499.0 L677.7,494.3 L678.1,491.4 L678.6,491.9 L679.1,488.1 L679.5,486.1 L680.0,482.1 L680.7,478.5 L681.4,478.5 L682.1,475.0 L682.9,471.1 L683.6,472.0 L684.3,468.3 L685.0,465.7 L686.2,461.6 L687.5,462.7 L688.8,457.5 L690.0,458.7 L691.2,455.2 L693.3,453.4 L695.4,453.0 L697.5,452.2 L697.9,452.9 L698.3,454.7 L698.8,458.7 L699.2,459.9 L699.6,461.7 L700.0,464.6 L700.4,466.7 L700.8,469.5 L701.2,472.5 L705.0,505.0 L706.9,507.3 L708.8,507.5 L711.2,455.2 L715.0,419.8 L715.6,417.3 L716.1,413.8 L716.7,412.0 L717.2,408.8 L717.8,408.4 L718.3,405.4 L718.9,401.8 L719.4,400.1 L720.0,398.2 L722.5,395.3 L725.0,396.2 L727.5,393.9 L729.6,393.1 L731.7,393.3 L733.8,391.3 L735.8,393.1 L737.9,395.3 L740.0,397.0 L742.5,396.4 L745.0,398.2 L747.5,397.9 L750.0,399.1 L752.5,399.4 L755.0,400.2 L757.5,400.3 L760.0,402.2 L762.5,401.0 L765.0,402.7 L767.5,401.0 L770.0,401.0 L772.5,401.1 L775.0,404.3 L777.5,405.3 L780.0,405.3 L781.6,406.3 L783.1,408.1 L784.7,410.1 L786.2,412.6 L786.9,414.1 L787.6,417.4 L788.3,419.4 L789.0,424.0 L789.7,426.5 L790.4,427.7 L791.1,429.3 L791.8,434.0 L792.5,434.9 L794.0,436.4 L795.5,437.2 L797.0,440.1 L798.5,442.2 L800.0,444.1 L801.2,445.2 L802.5,448.2 L803.8,448.8 L805.0,451.7 L806.2,453.2 L807.5,456.4 L808.8,457.1 L810.0,459.1 L811.2,461.9 L812.5,463.7 L813.8,466.6 L815.4,468.2 L817.1,470.6 L818.8,471.7 L820.5,511.7 L821.0,515.1 L821.5,516.1 L822.0,518.4 L822.5,522.9 L823.0,522.9 L823.5,527.1 L824.0,529.4 L824.5,530.9 L827.0,569.3 L829.5,606.9 L831.0,712.6 L833.0,791.7 L834.5,1055.8 L835.2,1056.8 L836.0,1060.5 L836.8,1062.9 L837.5,1065.8 L838.0,1127.7 L838.5,1065.8 L838.0,801.5 L838.5,1059.8 L840.2,1057.9 L842.0,1055.6 L843.5,801.0 L843.9,797.5 L844.3,795.3 L844.7,793.5 L845.0,790.3 L845.4,790.0 L845.8,786.8 L846.2,784.5 L846.6,782.0 L847.0,779.7 L847.3,776.7 L847.7,772.8 L848.1,772.7 L848.5,769.6 L849.0,712.3 L852.0,631.4 L854.5,614.0 L856.5,510.8 L857.5,439.1 L860.5,406.0 L861.1,402.8 L861.8,401.1 L862.5,400.2 L863.1,396.4 L863.8,395.3 L865.8,394.9 L867.9,392.0 L870.0,390.4 L872.5,389.5 L875.0,388.9 L877.5,388.1 L880.0,386.8 L881.6,385.1 L883.1,382.2 L884.7,380.4 L886.2,379.0 L888.4,378.4 L890.6,376.3 L892.8,375.6 L895.0,373.8 L897.5,372.2 L900.0,371.3 L902.5,370.6 L905.0,370.7 L907.5,370.6 L910.0,369.8 L912.5,370.1 L915.0,370.0 L917.5,369.9 L920.0,369.2 L922.5,370.5 L925.0,369.5 L927.5,370.6 L930.0,370.5 L932.5,368.8 L935.0,369.6 L937.5,370.3 L940.0,370.5 L942.5,369.6 L945.0,369.5 L947.5,368.6 L950.0,369.3 L952.5,367.3 L955.0,367.3 L957.5,365.9 L960.0,366.0 L962.5,366.1 L965.0,364.4 L967.5,365.0 L970.0,364.1 L972.5,364.5 L975.0,363.6 L977.5,363.1 L980.0,364.4 L982.5,363.8 L985.0,363.1 L987.5,363.2 L990.0,364.2 L992.5,364.2 L995.0,364.1 L997.5,363.9 L1000.0,364.6 L1002.5,364.3 L1005.0,365.3 L1007.5,363.7 L1010.0,365.1 L1012.5,365.2 L1015.0,363.9 L1017.5,365.3 L1020.0,364.9 L1022.5,365.2 L1025.0,364.1 L1027.5,364.2 L1030.0,364.2 L1032.5,365.3 L1035.0,364.5 L1037.5,364.1 L1040.0,364.2 L1042.5,363.9 L1045.0,363.4 L1047.5,363.5 L1050.0,364.4 L1052.5,363.9 L1055.0,365.2 L1057.5,364.1 L1060.0,364.3 L1062.5,364.8 L1065.0,364.4 L1067.5,364.8 L1070.0,366.0 L1072.5,366.0 L1075.0,365.7 L1077.5,365.6 L1080.0,366.0 L1082.5,366.0 L1085.0,365.2 L1087.5,365.4 L1090.0,364.1 L1092.5,365.3 L1095.0,364.7 L1097.5,365.1 L1100.0,364.8 L1102.5,364.1 L1105.0,363.6 L1107.5,365.1 L1110.0,363.6 L1112.5,364.1 L1115.0,363.8 L1117.5,363.6 L1120.0,364.3 L1122.5,364.6 L1125.0,363.5 L1127.5,365.0 L1130.0,365.5 L1132.5,367.0 L1135.0,367.9 L1137.5,366.6 L1140.0,365.8 L1142.5,365.2 L1145.0,365.7 L1147.5,364.2 L1148.5,361.4 L1149.5,360.4 L1150.5,358.3 L1151.5,355.1 L1152.5,352.7 L1153.8,374.0 L1155.5,371.5 L1157.2,369.9 L1159.0,367.5 L1160.8,365.7 L1162.5,364.0 L1165.0,364.3 L1167.5,364.9 L1169.9,364.6 L1172.4,364.0 L1174.9,364.0 L1177.3,364.2 L1179.8,364.0 L1182.3,363.9 L1184.8,363.4 L1187.2,363.8 L1189.7,365.0 L1192.2,363.5 L1194.7,364.2 L1197.2,364.4 L1199.6,364.9 L1202.1,363.7 L1204.6,363.8 L1207.0,363.7 L1209.5,364.0 L1212.0,364.2 L1214.6,365.3 L1217.2,365.3 L1219.8,365.6 L1222.4,364.3 L1225.0,365.1 L1227.5,365.9 L1230.0,366.3 L1232.5,365.7 L1235.0,365.9 L1237.5,365.0 L1240.0,365.8 L1242.5,366.8 L1245.0,366.7 L1247.5,366.8 L1250.0,367.1 L1252.5,365.9 L1255.0,365.7 L1257.5,365.9 L1260.0,366.7 L1262.5,366.8 L1265.0,367.8 L1267.5,367.8 L1270.0,368.0 L1272.5,368.5 L1275.0,368.3 L1277.5,368.8 L1280.0,368.3 L1282.5,369.9 L1285.0,369.3 L1287.5,370.9 L1290.0,370.6 L1292.5,370.2 L1295.0,370.1 L1297.5,370.4 L1300.0,371.3 L1302.5,371.5 L1305.0,370.6 L1307.5,370.6 L1310.0,371.6 L1312.5,371.8 L1315.0,371.8 L1317.5,371.8 L1320.0,372.8 L1322.5,372.1 L1325.0,372.9 L1327.5,373.5 L1330.0,374.7 L1332.5,374.3 L1335.0,374.7 L1337.5,373.7 L1340.0,373.0 L1342.5,372.9 L1345.0,374.0 L1347.5,373.4 L1350.0,372.4 L1352.5,371.5 L1355.0,372.5 L1357.5,372.8 L1360.0,372.0 L1362.5,371.8 L1365.0,373.2 L1367.5,374.5 L1370.0,373.4 L1372.5,374.3 L1374.4,375.7 L1376.2,377.2 L1378.1,379.2 L1380.0,379.7 L1381.6,382.6 L1383.1,384.4 L1384.7,385.6 L1386.2,387.2 L1387.0,391.2 L1387.8,392.0 L1388.5,395.8 L1389.2,396.8 L1390.0,399.7 L1390.9,403.2 L1391.9,404.5 L1392.8,408.7 L1393.8,410.0 L1394.7,411.7 L1395.6,414.3 L1396.6,417.3 L1397.5,420.2 L1400.0,421.2 L1402.5,419.1 L1405.0,419.7 L1407.5,419.7 L1409.2,419.6 L1410.8,415.7 L1412.5,414.5 L1414.2,412.2 L1415.8,411.4 L1417.5,410.4 L1418.2,413.5 L1419.0,415.6 L1419.8,418.8 L1420.5,421.1 L1421.2,422.3 L1421.8,424.2 L1422.2,428.6 L1422.8,430.6 L1423.2,431.3 L1423.8,435.2 L1424.4,437.2 L1425.0,439.7 L1425.6,442.1 L1426.2,444.1 L1426.9,446.2 L1427.5,449.8 L1430.0,467.3 L1430.4,471.0 L1430.7,471.2 L1431.1,475.7 L1431.4,476.0 L1431.8,478.7 L1432.1,482.3 L1432.5,484.1 L1435.0,483.6 L1437.5,483.3 L1440.0,465.0 L1442.5,447.4 L1444.4,446.1 L1446.2,442.2 L1448.1,444.6 L1450.0,447.9 L1451.9,448.2 L1453.8,451.2 L1456.2,450.2 L1458.8,447.8 L1459.5,443.8 L1460.2,441.3 L1461.0,438.9 L1461.8,438.6 L1462.5,434.7 L1464.2,434.0 L1465.8,432.7 L1467.5,429.8 L1468.4,426.9 L1469.4,426.2 L1470.3,422.8 L1471.2,419.8 L1471.9,418.1 L1472.5,414.6 L1473.1,412.0 L1473.8,408.8 L1474.4,408.3 L1475.0,405.6 L1476.0,403.0 L1477.0,401.3 L1478.0,396.5 L1479.0,394.5 L1480.0,392.7 L1481.7,391.9 L1483.3,389.9 L1485.0,386.5 L1487.5,385.8 L1490.0,386.0 L1492.5,385.9 L1495.0,386.1 L1497.5,384.1 L1500.0,384.9 L1502.5,383.5 L1505.0,386.0 L1507.5,387.3 L1510.0,387.3 L1512.5,386.6 L1515.0,386.6 L1517.5,386.7 L1520.0,387.8 L1522.5,386.6 L1525.0,386.0 L1527.5,387.1 L1530.0,385.5 L1532.5,385.3 L1533.8,387.1 L1535.0,390.9 L1537.5,389.7 L1540.0,390.8 L1542.5,389.9 L1545.0,388.8 L1546.9,389.3 L1548.8,390.3 L1550.6,391.9 L1552.5,394.5 L1555.0,395.7 L1557.5,395.7 L1560.0,395.7 L1562.5,397.0 L1565.0,397.4 L1567.5,397.5 L1570.0,397.7 L1572.5,398.0 L1575.0,397.5 L1577.5,396.1 L1580.0,397.4 L1582.5,397.5 L1585.0,399.1 L1587.5,399.5 L1590.0,401.0 L1592.5,400.3 L1595.0,400.8 L1597.5,401.1 L1600.0,401.7 L1602.5,404.3 L1605.0,404.8 L1607.5,405.3 L1610.0,406.9 L1612.5,407.9 L1615.0,406.2 L1617.5,405.1 L1620.0,406.2 L1622.5,405.4 L1625.0,405.1 L1627.5,404.0 L1630.0,405.5 L1632.5,406.9 L1635.0,407.4 L1637.5,407.5 L1640.0,406.5 L1642.5,407.8 L1645.0,407.9 L1647.5,409.2 L1650.0,409.8 L1652.5,407.8 L1655.0,407.7 L1657.5,405.2 L1660.0,404.9 L1662.5,404.7 L1665.0,404.4 L1667.5,406.0 L1670.0,406.7 L1672.5,405.4 L1674.4,407.3 L1676.2,408.6 L1678.1,408.8 L1680.0,410.7 L1681.6,411.4 L1683.1,413.2 L1684.7,414.9 L1686.2,417.2 L1688.2,415.4 L1690.2,412.1 L1692.2,410.3 L1694.4,409.1 L1696.6,408.8 L1698.8,406.2 L1701.0,405.6 L1703.5,404.4 L1706.0,405.3 L1708.5,404.0 L1711.0,402.8 L1713.5,401.7 L1716.0,402.0 L1718.5,401.8 L1721.0,401.5 L1723.5,399.6 L1726.0,399.2 L1728.5,399.8 L1731.0,398.1 L1733.5,396.5 L1736.0,395.3 L1738.5,395.0 L1741.0,393.1 L1743.5,392.8 L1746.0,391.4 L1748.5,390.7 L1750.4,390.2 L1752.2,389.0 L1754.1,385.8 L1756.0,384.2 L1758.5,385.5 L1761.0,384.4 L1763.5,384.2 L1766.0,386.2 L1767.9,384.4 L1769.8,384.1 L1771.6,381.8 L1773.5,381.2 L1776.0,380.7 L1778.5,379.9 L1781.0,379.5 L1783.5,380.9 L1786.0,380.9 L1787.9,380.0 L1789.8,376.0 L1791.6,375.5 L1793.5,373.2 L1795.4,372.1 L1797.2,369.9 L1799.1,369.0 L1801.0,368.3 L1803.5,368.2 L1806.0,364.8 L1808.5,364.5 L1811.0,363.6 L1813.0,363.3 L1815.0,360.0 L1817.0,358.6 L1819.0,359.5 L1821.0,357.5 L1823.5,357.0 L1826.0,355.9 L1828.5,358.2 L1831.0,356.8 L1833.5,357.5 L1836.0,357.9 L1838.5,358.9 L1841.0,357.7 L1843.5,359.8 L1846.0,359.3 L1848.5,358.7 L1851.0,359.2 L1853.5,358.5 L1856.0,356.7 L1858.5,356.8 L1861.0,357.8 L1863.5,358.6 L1866.0,358.7 L1868.5,359.2 L1871.0,359.4 L1873.5,361.1 L1876.0,362.1 L1878.5,360.4 L1881.0,362.1 L1883.5,362.7 L1886.0,360.8 L1888.5,362.9 L1891.0,361.1 L1893.5,362.3 L1896.0,362.1 L1897.2,360.0 L1898.5,356.9 L1899.8,354.8 L1901.0,352.9 L1902.2,350.1 L1903.5,348.4 L1904.8,345.5 L1906.0,343.2 L1906.6,344.6 L1907.2,348.6 L1907.9,350.8 L1908.5,353.0 L1910.6,355.4 L1912.7,356.9 L1914.8,357.6 L1916.8,358.3 L1918.9,360.5 L1921.0,361.6 L1922.9,359.5 L1924.8,358.7 L1926.6,356.3 L1928.5,355.7 L1931.0,355.8 L1933.5,354.6 L1936.0,356.2 L1938.5,354.7 L1941.0,356.0 L1943.5,356.9 L1946.0,356.7 L1948.5,355.9 L1951.0,357.5 L1953.5,357.6 L1956.0,358.8 L1958.2,357.4 L1960.5,359.2 L1962.8,359.6 L1965.0,358.3" fill="none" stroke="#000" stroke-width="5" stroke-linejoin="round" stroke-linecap="butt"/>
<path d="M283.2,512.1 L286.3,471.7 L290.0,518.8 L288.8,474.4 L293.8,538.4 L295.4,537.0 L296.9,541.4 L295.1,482.7 L295.5,482.1 L295.9,484.3 L296.3,492.8 L296.7,491.0 L297.1,496.3 L297.6,495.8 L298.0,499.5 L298.4,498.0 L298.8,504.3 L299.2,508.5 L299.6,508.2 L300.1,511.2 L300.7,472.1 L302.1,470.6 L303.6,478.7 L305.1,479.4 L307.6,447.1 L309.5,445.3 L311.3,451.2 L312.6,476.5 L313.3,475.4 L314.1,473.8 L314.8,470.4 L315.6,469.1 L316.3,463.8 L318.2,486.1 L320.4,485.0 L322.6,486.4 L323.5,485.1 L324.5,477.9 L325.4,475.7 L326.4,474.7 L326.8,475.8 L327.2,470.4 L327.6,469.2 L328.0,465.0 L328.5,463.9 L328.9,461.3 L330.7,459.4 L332.6,459.6 L334.5,458.3 L336.4,457.5 L336.8,455.4 L337.1,454.6 L337.5,451.9 L337.9,450.5 L338.3,445.7 L340.1,443.3 L342.0,446.1 L343.1,450.1 L344.1,451.9 L345.2,451.7 L347.0,469.6 L349.8,467.3 L352.7,469.9 L353.3,467.2 L353.9,463.2 L354.5,459.6 L355.2,462.0 L355.8,460.5 L356.4,454.3 L358.5,455.8 L360.6,452.3 L362.7,450.7 L363.6,447.8 L364.6,448.1 L365.5,446.3 L366.4,440.4 L367.2,439.9 L367.9,434.3 L368.7,436.1 L369.4,431.5 L370.2,431.2 L372.7,433.5 L375.2,431.1 L377.7,432.7 L379.0,432.0 L380.2,432.3 L381.5,436.7 L382.2,435.9 L383.0,439.2 L383.7,442.7 L384.5,446.2 L385.2,447.0 L385.8,447.4 L386.3,454.6 L386.8,453.6 L387.4,459.8 L387.9,461.8 L388.5,461.0 L389.0,464.0 L390.9,481.6 L393.4,507.0 L395.6,530.0 L399.0,506.8 L400.3,488.1 L401.0,488.2 L401.7,483.3 L402.5,480.6 L403.2,480.0 L403.9,474.8 L404.6,473.6 L405.5,445.2 L407.0,441.6 L408.4,439.1 L410.8,436.1 L413.2,438.5 L415.5,439.5 L417.9,436.1 L420.3,439.3 L422.8,456.9 L425.1,480.5 L426.6,510.7 L429.7,573.6 L432.8,535.7 L435.3,506.4 L437.2,506.2 L439.1,504.5 L441.6,483.3 L442.8,484.8 L444.1,489.8 L445.4,492.4 L446.0,525.0 L447.2,527.3 L448.5,530.0 L449.7,531.4 L451.0,550.3 L451.3,552.1 L451.7,554.6 L452.1,557.8 L452.4,559.0 L452.8,561.6 L453.1,565.5 L453.5,566.0" fill="none" stroke="#0000ff" stroke-width="5" stroke-linejoin="round" stroke-linecap="butt"/>
<path d="M283.2,514.9 L286.3,474.6 L290.0,521.6 L288.8,477.3 L293.8,541.2 L295.4,539.9 L296.9,544.3 L295.1,485.6 L295.5,485.0 L295.9,487.2 L296.3,495.6 L296.7,493.8 L297.1,499.2 L297.6,498.7 L298.0,502.4 L298.4,500.9 L298.8,507.2 L299.2,511.4 L299.6,511.1 L300.1,514.1 L300.7,475.0 L302.1,473.5 L303.6,481.5 L305.1,482.3 L307.6,450.0 L309.5,448.2 L311.3,454.0 L312.6,479.4 L313.3,478.3 L314.1,476.7 L314.8,473.2 L315.6,472.0 L316.3,466.7 L318.2,489.0 L320.4,487.9 L322.6,489.3 L323.5,488.0 L324.5,480.8 L325.4,478.5 L326.4,477.5 L326.8,478.7 L327.2,473.2 L327.6,472.1 L328.0,467.8 L328.5,466.8 L328.9,464.2 L330.7,462.3 L332.6,462.4 L334.5,461.2 L336.4,460.4 L336.8,458.3 L337.1,457.5 L337.5,454.8 L337.9,453.4 L338.3,448.6 L340.1,446.1 L342.0,449.0 L343.1,453.0 L344.1,454.8 L345.2,454.6 L347.0,472.5 L349.8,470.2 L352.7,472.7 L353.3,470.1 L353.9,466.1 L354.5,462.4 L355.2,464.9 L355.8,463.4 L356.4,457.2 L358.5,458.7 L360.6,455.1 L362.7,453.6 L363.6,450.7 L364.6,451.0 L365.5,449.1 L366.4,443.3 L367.2,442.8 L367.9,437.2 L368.7,438.9 L369.4,434.4 L370.2,434.0 L372.7,436.4 L375.2,434.0 L377.7,435.6 L379.0,434.9 L380.2,435.2 L381.5,439.6 L382.2,438.8 L383.0,442.1 L383.7,445.6 L384.5,449.1 L385.2,449.8 L385.8,450.2 L386.3,457.5 L386.8,456.5 L387.4,462.7 L387.9,464.7 L388.5,463.9 L389.0,466.8 L390.9,484.5 L393.4,509.9 L395.6,532.9 L399.0,509.7 L400.3,491.0 L401.0,491.1 L401.7,486.2 L402.5,483.4 L403.2,482.9 L403.9,477.7 L404.6,476.5 L405.5,448.0 L407.0,444.5 L408.4,442.0 L410.8,439.0 L413.2,441.4 L415.5,442.4 L417.9,439.0 L420.3,442.2 L422.8,459.7 L425.1,483.4 L426.6,513.6 L429.7,576.5 L432.8,538.6 L435.3,509.3 L437.2,509.1 L439.1,507.4 L441.6,486.2 L442.8,487.7 L444.1,492.7 L445.4,495.2 L446.0,527.9 L447.2,530.2 L448.5,532.9 L449.7,534.3 L451.0,553.1 L451.3,554.9 L451.7,557.5 L452.1,560.7 L452.4,561.9 L452.8,564.5 L453.1,568.4 L453.5,568.9 L456.0,541.3 L457.2,579.5 L458.8,593.9 L465.1,644.9 L468.2,699.5 L469.5,773.6 L470.5,816.0 L472.0,816.4 L472.8,774.3 L474.0,698.4 L474.4,588.7 L476.2,553.7 L477.5,502.0 L478.8,498.8 L480.0,497.1 L481.9,497.7 L483.8,501.2 L484.2,504.6 L484.8,508.0 L485.2,508.8 L485.8,510.4 L486.2,513.4 L487.2,516.6 L488.1,517.8 L489.1,522.7 L490.0,524.5 L492.5,541.0 L493.0,543.1 L493.5,547.7 L494.0,549.6 L494.5,552.7 L495.0,553.8 L497.0,578.4 L497.6,686.4 L498.3,690.3 L499.1,690.7 L499.8,693.5 L500.5,696.2 L501.2,698.9 L502.0,848.9 L505.0,874.7 L506.5,934.7 L509.0,934.5 L510.5,874.7 L510.9,873.0 L511.3,870.9 L511.7,866.2 L512.1,865.8 L512.4,863.2 L512.8,857.9 L513.2,857.5 L513.6,855.3 L514.0,851.8 L515.0,699.0 L514.4,695.1 L513.9,692.7 L515.2,623.6 L516.6,620.3 L518.1,620.2 L519.5,617.5 L519.9,621.6 L520.3,621.0 L520.7,626.9 L521.1,628.6 L521.5,632.0 L521.9,634.4 L522.3,636.9 L522.7,638.2 L523.1,638.4 L523.5,643.8 L523.9,644.8 L526.4,676.4 L528.9,699.2 L527.5,699.0 L528.8,748.9 L529.5,789.7 L531.5,789.2 L532.5,748.7 L533.8,698.6 L533.9,664.7 L537.7,639.1 L538.6,642.7 L539.6,643.5 L540.5,645.4 L541.5,649.2 L542.7,699.5 L543.0,698.5 L544.5,799.5 L545.5,859.7 L547.5,859.5 L548.5,799.5 L550.0,698.2 L550.8,609.2 L551.4,608.0 L551.9,602.2 L552.5,600.6 L553.0,598.1 L553.6,596.6 L554.1,593.7 L554.7,591.4 L555.2,589.4 L554.5,580.7 L556.0,577.8 L557.5,577.2 L558.0,578.5 L558.5,580.5 L559.0,586.4 L559.5,588.2 L560.0,588.3 L560.2,589.0 L564.0,651.3 L567.8,698.7 L567.0,698.8 L568.5,749.2 L569.5,789.1 L571.5,788.8 L575.0,748.5 L576.5,698.7 L577.8,666.1 L578.6,664.5 L579.3,662.8 L580.1,659.1 L580.9,655.6 L581.7,653.6 L582.5,652.1 L583.3,650.6 L584.0,648.3 L584.6,649.7 L585.1,653.7 L585.6,655.3 L586.2,656.9 L586.7,659.0 L587.3,661.8 L587.8,664.5 L590.3,698.8 L590.5,699.3 L592.0,748.9 L593.0,783.6 L595.0,784.1 L596.0,749.3 L597.0,698.3 L596.6,661.5 L600.3,636.5 L601.1,640.6 L601.8,643.4 L602.6,643.6 L603.3,648.2 L604.1,649.6 L606.6,698.6 L607.0,698.9 L608.8,773.4 L610.0,834.5 L612.5,874.3 L614.5,839.6 L616.5,874.5 L619.0,839.3 L621.2,774.4 L625.0,724.1 L627.0,698.4 L626.6,636.7 L630.4,595.7 L635.3,536.0 L637.8,499.3 L638.2,494.5 L638.7,492.1 L639.2,489.6 L639.7,490.2 L640.1,484.9 L640.6,481.7 L641.1,482.5 L641.5,478.0 L642.6,477.7 L643.7,474.7 L644.8,473.1 L645.9,470.3 L646.5,472.2 L647.2,475.4 L647.8,474.7 L648.4,480.0 L649.0,481.3 L649.7,484.4 L650.3,485.2 L651.6,511.3 L652.0,515.0 L652.5,513.9 L653.0,517.3 L653.4,520.6 L653.9,524.0 L654.4,524.0 L654.8,526.1 L655.3,529.3 L657.8,554.9 L658.4,558.1 L659.1,559.0 L659.7,561.3 L660.3,563.7 L660.9,565.9 L661.6,568.5 L662.2,569.5 L662.8,573.6 L663.5,578.1 L664.1,578.4 L664.7,582.4 L665.3,582.6 L666.0,587.4 L666.6,589.6 L666.2,646.0 L666.7,648.2 L667.2,650.4 L667.6,653.5 L668.1,656.9 L668.6,656.3 L669.0,658.5 L669.5,662.9 L671.2,616.4 L674.1,536.0 L675.4,508.4 L677.0,508.1 L678.7,504.7 L680.4,504.3 L680.8,501.1 L681.3,500.3 L681.8,496.9 L682.2,494.2 L682.7,493.7 L683.2,492.4 L683.6,487.4 L684.1,486.2 L684.9,483.1 L685.6,482.3 L686.4,478.7 L687.1,475.0 L687.9,472.9 L688.9,469.0 L689.9,468.3 L690.9,465.4 L691.9,462.1 L692.9,460.7 L695.4,458.9 L697.9,458.8 L698.3,459.5 L698.7,465.4 L699.1,465.8 L699.6,468.8 L700.0,470.8 L700.4,473.8 L700.9,476.9 L701.4,478.6 L701.9,480.9 L702.4,484.1 L702.9,486.4 L703.4,488.3 L704.0,491.9 L704.5,495.2 L705.1,496.3 L705.6,498.2 L706.1,500.8 L706.7,504.5 L707.2,502.3 L707.7,500.7 L708.2,497.9 L708.7,493.6 L709.2,491.0 L709.7,488.8 L710.2,486.1 L710.7,485.2 L711.2,483.2 L711.7,480.2 L714.2,454.4 L715.4,423.8 L716.2,420.3 L716.9,418.1 L717.7,416.5 L718.4,412.1 L719.2,410.3 L720.8,409.9 L722.3,406.4 L723.9,404.8 L725.5,403.4 L727.5,402.6 L729.6,399.3 L731.7,399.4 L732.7,397.5 L733.8,395.8 L735.8,396.6 L737.9,399.4 L740.0,401.4 L742.5,400.1 L745.0,400.1 L747.5,399.1 L750.0,399.9 L752.5,402.1 L755.0,401.4 L757.5,404.8 L760.0,405.1 L762.5,403.1 L765.0,405.3 L767.5,403.3 L770.0,403.7 L772.5,404.8 L775.0,404.0 L777.5,405.8 L780.0,406.1 L781.6,408.7 L783.1,408.9 L784.7,412.3 L786.2,413.9 L787.3,416.4 L788.3,418.5 L789.4,419.7 L790.4,423.4 L791.5,425.5 L792.5,428.7 L794.0,431.0 L795.5,432.6 L797.0,433.5 L798.5,436.9 L800.0,438.6 L801.5,439.5 L803.0,443.6 L804.5,444.9 L806.0,445.3 L807.5,449.0 L809.4,448.7 L811.2,450.5 L813.1,452.9 L815.0,453.6 L816.2,456.2 L817.5,459.0 L818.8,460.9 L820.0,463.3 L822.5,483.2 L826.2,513.1 L828.8,548.8 L831.2,603.9 L832.5,709.6 L834.0,788.9 L835.0,958.4 L836.5,1005.3 L838.0,1005.5 L838.0,794.1 L838.5,1005.1 L840.0,1005.6 L841.5,958.3 L842.0,799.0 L846.5,766.5 L847.5,709.5 L850.0,611.1 L852.5,513.7 L855.0,436.5 L855.6,433.3 L856.2,432.2 L856.9,427.5 L857.5,425.5 L858.1,422.5 L858.8,420.0 L859.4,419.5 L860.0,416.5 L860.5,412.8 L860.9,410.3 L861.4,408.5 L861.9,407.0 L862.3,404.7 L862.8,402.0 L863.3,399.0 L863.8,395.8 L865.3,394.4 L866.9,392.2 L868.4,391.6 L870.0,390.1 L872.5,388.5 L875.0,387.7 L877.5,387.7 L880.0,386.0 L881.6,385.0 L883.1,383.3 L884.7,381.5 L886.2,378.7 L888.4,377.6 L890.6,376.4 L892.8,375.3 L895.0,374.1 L897.5,372.9 L900.0,370.9 L902.5,370.3 L905.0,369.9 L907.5,370.0 L910.0,370.0 L912.5,368.6 L915.0,369.8 L917.5,369.5 L920.0,369.1 L922.5,369.0 L925.0,368.8 L927.5,368.2 L930.0,368.9 L932.5,368.0 L935.0,368.8 L937.5,369.1 L940.0,368.7 L942.5,368.9 L945.0,369.1 L947.5,368.9 L950.0,366.9 L952.5,367.5 L955.0,366.5 L957.5,364.9 L960.0,364.8 L962.5,363.9 L965.0,363.5 L967.5,363.6 L970.0,363.9 L972.5,362.5 L975.0,362.8 L977.5,363.0 L980.0,362.1 L982.5,363.6 L985.0,363.2 L987.5,363.9 L990.0,363.7 L992.5,363.9 L995.0,363.3 L997.5,364.2 L1000.0,364.1 L1002.5,364.4 L1005.0,363.6 L1007.5,364.2 L1010.0,363.7 L1012.5,363.0 L1015.0,362.8 L1017.5,362.9 L1020.0,363.1 L1022.5,363.0 L1025.0,363.5 L1027.5,363.9 L1030.0,363.6 L1032.5,363.3 L1035.0,363.7 L1037.5,363.1 L1040.0,363.3 L1042.5,363.8 L1045.0,363.2 L1047.5,362.8 L1050.0,363.6 L1052.5,363.7 L1055.0,363.2 L1057.5,363.2 L1060.0,363.6 L1062.5,363.7 L1065.0,363.1 L1067.5,362.8 L1070.0,363.2 L1072.5,364.3 L1075.0,363.5 L1077.5,363.7 L1080.0,363.1 L1082.5,363.1 L1085.0,363.0 L1087.5,363.3 L1090.0,362.8 L1092.5,362.5 L1095.0,362.6 L1097.5,362.6 L1100.0,363.2 L1102.5,362.3 L1105.0,362.2 L1107.5,362.9 L1110.0,362.8 L1112.5,363.2 L1115.0,362.0 L1117.5,362.6 L1120.0,362.5 L1122.5,361.8 L1125.0,362.9 L1127.5,361.8 L1130.0,361.4 L1132.5,361.9 L1135.0,361.1 L1137.5,361.7 L1140.0,361.2 L1142.5,359.1 L1145.0,357.5 L1147.5,357.0 L1149.3,355.1 L1151.2,354.8 L1153.0,353.0 L1154.5,355.7 L1156.0,356.5 L1157.5,358.6 L1160.0,359.9 L1162.5,362.0 L1165.0,362.0 L1167.5,361.5 L1169.9,361.1 L1172.4,362.1 L1174.9,362.6 L1177.3,362.0 L1179.8,360.9 L1182.3,361.0 L1184.8,361.1 L1187.2,361.2 L1189.7,361.0 L1192.2,361.0 L1194.7,362.1 L1197.2,362.5 L1199.6,361.3 L1202.1,362.7 L1204.6,361.8 L1207.0,362.3 L1209.5,362.6 L1212.0,362.1 L1214.6,361.1 L1217.2,361.7 L1219.8,362.4 L1222.4,363.2 L1225.0,362.3 L1227.5,362.7 L1230.0,364.2 L1232.5,363.4 L1235.0,364.4 L1237.5,364.9 L1240.0,365.1 L1242.5,365.3 L1245.0,363.7 L1247.5,364.5 L1250.0,364.2 L1252.5,364.2 L1255.0,363.4 L1257.5,363.8 L1260.0,362.6 L1262.5,362.5 L1265.0,362.2 L1267.5,363.3 L1270.0,362.9 L1272.5,362.6 L1275.0,362.6 L1277.5,363.7 L1280.0,363.6 L1282.5,363.9 L1285.0,363.5 L1287.5,363.8 L1290.0,363.2 L1292.5,364.2 L1295.0,362.9 L1297.5,363.7 L1300.0,364.3 L1302.5,364.1 L1305.0,363.1 L1307.5,363.3 L1310.0,364.4 L1312.5,363.9 L1315.0,364.8 L1317.5,365.2 L1320.0,364.8 L1322.5,365.9 L1325.0,366.0 L1327.5,365.6 L1330.0,366.2 L1332.5,365.5 L1335.0,366.1 L1337.5,367.1 L1340.0,365.6 L1342.5,366.4 L1345.0,365.5 L1347.5,365.4 L1350.0,366.2 L1352.5,365.3 L1355.0,364.8 L1357.5,365.0 L1360.0,366.2 L1362.5,366.0 L1365.0,364.4 L1367.5,364.9 L1370.0,366.8 L1372.5,365.2 L1375.0,366.8 L1377.5,367.7 L1380.0,369.3 L1382.5,370.6 L1385.0,372.3 L1387.5,372.8 L1389.4,374.5 L1391.2,377.5 L1391.8,379.2 L1392.2,383.6 L1392.8,384.3 L1393.2,386.6 L1393.8,390.8 L1394.7,392.0 L1395.6,396.3 L1396.6,396.7 L1397.5,400.3 L1399.2,401.7 L1400.8,405.3 L1402.5,406.7 L1405.0,405.7 L1407.5,404.3 L1409.6,403.8 L1411.7,401.1 L1413.8,400.4 L1415.9,399.5 L1418.0,398.6 L1419.1,402.4 L1420.2,404.3 L1421.2,406.9 L1422.2,408.0 L1423.1,411.0 L1424.1,413.0 L1425.0,415.5 L1425.6,416.7 L1426.2,419.9 L1426.9,422.8 L1427.5,424.2 L1428.1,427.9 L1428.8,430.5 L1429.4,432.6 L1430.0,435.7 L1430.6,438.1 L1431.2,439.6 L1431.9,442.4 L1432.5,445.8 L1433.1,447.1 L1433.8,449.6 L1434.4,451.0 L1435.0,454.0 L1435.6,451.2 L1436.2,450.9 L1436.9,448.1 L1437.5,445.7 L1438.0,444.1 L1438.5,440.6 L1439.0,438.9 L1439.5,435.4 L1440.0,432.6 L1440.5,430.8 L1442.1,428.8 L1443.8,425.8 L1445.0,427.8 L1446.2,431.0 L1447.5,432.7 L1449.4,436.6 L1451.2,438.2 L1453.1,436.6 L1455.0,437.0 L1455.9,433.5 L1456.9,431.1 L1457.8,430.6 L1458.8,427.6 L1459.6,425.4 L1460.4,423.2 L1461.2,419.8 L1463.1,418.4 L1465.0,415.1 L1466.2,412.6 L1467.5,409.9 L1468.8,408.1 L1469.7,405.9 L1470.6,402.2 L1471.6,399.2 L1472.5,397.5 L1473.1,395.0 L1473.8,391.6 L1474.4,389.3 L1475.0,387.9 L1476.9,385.6 L1478.8,383.1 L1480.0,381.7 L1481.2,379.3 L1482.5,376.1 L1485.0,373.4 L1487.5,372.1 L1490.0,371.8 L1492.5,371.4 L1495.0,370.9 L1497.5,371.7 L1500.0,373.6 L1502.5,371.4 L1505.0,370.7 L1506.9,373.0 L1508.8,374.0 L1510.6,374.0 L1512.5,375.5 L1515.0,375.7 L1517.5,372.8 L1520.0,372.9 L1522.5,373.3 L1525.0,373.3 L1527.5,372.4 L1530.0,372.1 L1532.5,372.9 L1535.0,374.0 L1537.5,373.3 L1540.0,374.6 L1542.5,374.2 L1545.0,374.0 L1547.5,373.0 L1550.0,374.2 L1552.5,374.5 L1555.0,376.4 L1557.5,376.4 L1560.0,376.0 L1562.5,377.6 L1565.0,376.8 L1567.5,377.7 L1570.0,378.2 L1572.5,379.3 L1575.0,378.3 L1577.5,377.9 L1580.0,377.3 L1582.5,378.4 L1585.0,379.3 L1587.5,380.0 L1590.0,381.1 L1592.5,381.3 L1595.0,380.7 L1597.5,380.6 L1600.0,382.7 L1602.5,383.4 L1605.0,383.2 L1607.5,384.5 L1610.0,384.3 L1612.5,384.5 L1615.0,384.1 L1617.5,384.0 L1620.0,385.9 L1622.5,386.8 L1625.0,386.4 L1627.5,385.7 L1630.0,385.9 L1632.5,386.4 L1635.0,385.8 L1637.5,384.9 L1640.0,385.0 L1642.5,385.8 L1645.0,385.4 L1647.5,385.9 L1650.0,387.4 L1652.5,388.5 L1655.0,387.4 L1657.5,387.0 L1660.0,386.9 L1662.5,387.2 L1665.0,388.2 L1667.5,387.4 L1670.0,388.8 L1672.5,387.4 L1675.0,388.7 L1677.5,390.6 L1680.0,391.9 L1682.1,394.6 L1684.2,396.2 L1686.2,397.4 L1688.7,397.3 L1691.1,395.8 L1693.5,397.1 L1695.4,395.6 L1697.2,393.8 L1699.1,391.7 L1701.0,391.0 L1703.0,390.3 L1705.0,386.7 L1707.0,386.7 L1709.0,384.4 L1711.0,383.3 L1713.5,383.8 L1716.0,383.4 L1718.5,382.1 L1721.0,380.5 L1723.5,381.2 L1726.0,379.7 L1728.5,379.9 L1731.0,380.9 L1733.5,379.3 L1736.0,379.3 L1738.5,379.7 L1741.0,378.7 L1743.5,376.0 L1746.0,375.2 L1748.5,374.3 L1751.0,372.8 L1753.5,372.4 L1756.0,373.5 L1758.5,370.4 L1761.0,370.5 L1763.5,369.5 L1766.0,368.7 L1768.5,369.3 L1771.0,369.4 L1773.5,368.6 L1775.4,367.3 L1777.2,366.6 L1779.1,363.2 L1781.0,363.0 L1783.5,364.8 L1786.0,362.8 L1788.5,363.6 L1791.0,364.5 L1792.9,362.3 L1794.8,361.5 L1796.6,358.6 L1798.5,358.0 L1800.4,357.9 L1802.2,354.2 L1804.1,354.6 L1806.0,351.7 L1807.9,352.0 L1809.8,350.0 L1811.6,348.6 L1813.5,346.6 L1816.0,345.2 L1818.5,346.4 L1821.0,344.3 L1823.5,344.2 L1826.0,345.6 L1828.5,346.0 L1831.0,344.1 L1833.5,346.7 L1836.0,345.8 L1838.5,344.6 L1841.0,343.1 L1843.5,343.1 L1846.0,345.8 L1848.5,345.2 L1851.0,346.6 L1853.5,346.7 L1856.0,347.3 L1858.5,348.5 L1861.0,349.9 L1863.5,348.2 L1866.0,348.2 L1868.5,349.9 L1871.0,349.8 L1873.5,348.7 L1876.0,347.1 L1878.5,346.9 L1881.0,347.9 L1883.5,346.2 L1886.0,346.0 L1888.5,345.7 L1891.0,345.3 L1893.5,346.8 L1896.0,348.3 L1898.5,349.0 L1901.0,349.1 L1903.5,349.5 L1906.0,350.8 L1908.5,351.8 L1911.0,353.3 L1913.5,352.9 L1916.0,350.0 L1918.5,349.6 L1921.0,348.8 L1923.5,346.1 L1926.0,345.2 L1928.5,347.6 L1931.0,347.6 L1933.5,346.7 L1936.0,347.2 L1938.5,347.9 L1941.0,349.0 L1943.5,351.2 L1946.0,350.1 L1948.5,351.1 L1951.0,350.2 L1953.5,350.3 L1956.0,352.4 L1958.2,352.5 L1960.5,352.7 L1962.8,351.5 L1965.0,350.8" fill="none" stroke="#0000ff" stroke-width="5" stroke-linejoin="round" stroke-linecap="butt"/>
<path d="M283.2,518.1 L286.3,477.8 L290.0,524.8 L288.8,480.5 L293.8,544.4 L295.4,543.1 L296.9,547.5 L295.1,488.8 L295.5,488.2 L295.9,490.4 L296.3,498.8 L296.7,497.0 L297.1,502.4 L297.6,501.9 L298.0,505.6 L298.4,504.1 L298.8,510.4 L299.2,514.6 L299.6,514.3 L300.1,517.3 L300.7,478.2 L302.1,476.7 L303.6,484.7 L305.1,485.5 L307.6,453.2 L309.5,451.4 L311.3,457.2 L312.6,482.6 L313.3,481.5 L314.1,479.9 L314.8,476.4 L315.6,475.2 L316.3,469.9 L318.2,492.2 L320.4,491.1 L322.6,492.5 L323.5,491.2 L324.5,484.0 L325.4,481.7 L326.4,480.7 L326.8,481.9 L327.2,476.4 L327.6,475.3 L328.0,471.0 L328.5,470.0 L328.9,467.4 L330.7,465.5 L332.6,465.6 L334.5,464.4 L336.4,463.6 L336.8,461.5 L337.1,460.7 L337.5,458.0 L337.9,456.6 L338.3,451.8 L340.1,449.3 L342.0,452.2 L343.1,456.2 L344.1,458.0 L345.2,457.8 L347.0,475.7 L349.8,473.4 L352.7,475.9 L353.3,473.3 L353.9,469.3 L354.5,465.6 L355.2,468.1 L355.8,466.6 L356.4,460.4 L358.5,461.9 L360.6,458.3 L362.7,456.8 L363.6,453.9 L364.6,454.2 L365.5,452.3 L366.4,446.5 L367.2,446.0 L367.9,440.4 L368.7,442.1 L369.4,437.6 L370.2,437.2 L372.7,439.6 L375.2,437.2 L377.7,438.8 L379.0,438.1 L380.2,438.4 L381.5,442.8 L382.2,442.0 L383.0,445.3 L383.7,448.8 L384.5,452.3 L385.2,453.0 L385.8,453.4 L386.3,460.7 L386.8,459.7 L387.4,465.9 L387.9,467.9 L388.5,467.1 L389.0,470.0 L390.9,487.7 L393.4,513.1 L395.6,536.1 L399.0,512.9 L400.3,494.2 L401.0,494.3 L401.7,489.4 L402.5,486.6 L403.2,486.1 L403.9,480.9 L404.6,479.7 L405.5,451.2 L407.0,447.7 L408.4,445.2 L410.8,442.2 L413.2,444.6 L415.5,445.6 L417.9,442.2 L420.3,445.4 L422.8,462.9 L425.1,486.6 L426.6,516.8 L429.7,579.7 L432.8,541.8 L435.3,512.5 L437.2,512.3 L439.1,510.6 L441.6,489.4 L442.8,490.9 L444.1,495.9 L445.4,498.4 L446.0,531.1 L447.2,533.4 L448.5,536.1 L449.7,537.5 L451.0,556.3 L451.3,558.1 L451.7,560.7 L452.1,563.9 L452.4,565.1 L452.8,567.7 L453.1,571.6 L453.5,572.1 L456.0,544.1 L457.2,582.0 L458.8,596.0 L465.1,645.9 L468.2,700.5 L469.5,774.6 L470.5,817.0 L472.0,817.4 L472.8,775.3 L474.0,699.4 L474.4,589.7 L476.2,554.7 L477.5,503.0 L478.8,499.8 L480.0,498.1 L481.9,498.7 L483.8,502.2 L484.2,505.6 L484.8,509.0 L485.2,509.8 L485.8,511.4 L486.2,514.4 L487.2,517.6 L488.1,518.8 L489.1,523.7 L490.0,525.5 L492.5,542.0 L493.0,544.1 L493.5,548.7 L494.0,550.6 L494.5,553.7 L495.0,554.8 L497.0,579.4 L497.6,687.4 L498.3,691.3 L499.1,691.7 L499.8,694.5 L500.5,697.2 L501.2,699.9 L502.0,849.9 L505.0,875.7 L506.5,935.7 L509.0,935.5 L510.5,875.7 L510.9,874.0 L511.3,871.9 L511.7,867.2 L512.1,866.8 L512.4,864.2 L512.8,858.9 L513.2,858.5 L513.6,856.3 L514.0,852.8 L515.0,700.0 L514.4,696.1 L513.9,693.7 L515.2,624.6 L516.6,621.3 L518.1,621.2 L519.5,618.5 L519.9,622.6 L520.3,622.0 L520.7,627.9 L521.1,629.6 L521.5,633.0 L521.9,635.4 L522.3,637.9 L522.7,639.2 L523.1,639.4 L523.5,644.8 L523.9,645.8 L526.4,677.4 L528.9,700.2 L527.5,700.0 L528.8,749.9 L529.5,790.7 L531.5,790.2 L532.5,749.7 L533.8,699.6 L533.9,665.7 L537.7,640.1 L538.6,643.7 L539.6,644.5 L540.5,646.4 L541.5,650.2 L542.7,700.5 L543.0,699.5 L544.5,800.5 L545.5,860.7 L547.5,860.5 L548.5,800.5 L550.0,699.2 L550.8,610.2 L551.4,609.0 L551.9,603.2 L552.5,601.6 L553.0,599.1 L553.6,597.6 L554.1,594.7 L554.7,592.4 L555.2,590.4 L554.5,581.7 L556.0,578.8 L557.5,578.2 L558.0,579.5 L558.5,581.5 L559.0,587.4 L559.5,589.2 L560.0,589.3 L560.2,590.0 L564.0,652.3 L567.8,699.7 L567.0,699.8 L568.5,750.2 L569.5,790.1 L571.5,789.8 L575.0,749.5 L576.5,699.7 L577.8,667.1 L578.6,665.5 L579.3,663.8 L580.1,660.1 L580.9,656.6 L581.7,654.6 L582.5,653.1 L583.3,651.6 L584.0,649.3 L584.6,650.7 L585.1,654.7 L585.6,656.3 L586.2,657.9 L586.7,660.0 L587.3,662.8 L587.8,665.5 L590.3,699.8 L590.5,700.3 L592.0,749.9 L593.0,784.6 L595.0,785.1 L596.0,750.3 L597.0,699.3 L596.6,662.5 L600.3,637.5 L601.1,641.6 L601.8,644.4 L602.6,644.6 L603.3,649.2 L604.1,650.6 L606.6,699.6 L607.0,699.9 L608.8,774.4 L610.0,835.5 L612.5,875.3 L614.5,840.6 L616.5,875.5 L619.0,840.3 L621.2,775.4 L625.0,725.1 L627.0,699.4 L626.6,637.7 L630.4,596.7 L635.3,537.2 L637.8,500.6 L638.2,495.9 L638.7,493.6 L639.2,491.1 L639.7,491.7 L640.1,486.4 L640.6,483.3 L641.1,484.0 L641.5,479.6 L642.6,479.3 L643.7,476.5 L644.8,474.9 L645.9,472.1 L646.5,474.0 L647.2,477.2 L647.8,476.5 L648.4,481.8 L649.0,483.1 L649.7,486.2 L650.3,487.0 L651.6,513.1 L652.0,516.8 L652.5,515.7 L653.0,519.1 L653.4,522.4 L653.9,525.8 L654.4,525.8 L654.8,527.9 L655.3,531.1 L657.8,556.7 L658.4,559.9 L659.1,560.8 L659.7,563.1 L660.3,565.5 L660.9,567.7 L661.6,570.3 L662.2,571.3 L662.8,575.4 L663.5,579.9 L664.1,580.2 L664.7,584.2 L665.3,584.4 L666.0,589.2 L666.6,591.4 L666.2,647.8 L666.7,650.0 L667.2,652.2 L667.6,655.3 L668.1,658.7 L668.6,658.1 L669.0,660.2 L669.5,664.6 L671.2,618.2 L674.1,537.8 L675.4,510.1 L677.0,509.8 L678.7,506.5 L680.4,506.1 L680.8,502.9 L681.3,502.1 L681.8,498.7 L682.2,496.0 L682.7,495.5 L683.2,494.2 L683.6,489.2 L684.1,488.0 L684.9,484.8 L685.6,484.1 L686.4,480.5 L687.1,476.7 L687.9,474.7 L688.9,470.7 L689.9,470.1 L690.9,467.2 L691.9,463.8 L692.9,462.4 L695.4,460.7 L697.9,460.6 L698.3,461.2 L698.7,467.1 L699.1,467.6 L699.6,470.5 L700.0,472.5 L700.4,475.6 L700.9,478.6 L701.4,480.3 L701.9,482.6 L702.4,485.8 L702.9,488.1 L703.4,490.0 L704.0,493.6 L704.5,496.9 L705.1,498.0 L705.6,499.9 L706.1,502.6 L706.7,506.2 L707.2,504.0 L707.7,502.4 L708.2,499.7 L708.7,495.4 L709.2,492.8 L709.7,490.5 L710.2,487.8 L710.7,486.9 L711.2,484.9 L711.7,481.9 L714.2,456.1 L715.4,425.5 L716.2,422.0 L716.9,419.8 L717.7,418.2 L718.4,413.8 L719.2,412.0 L720.8,411.6 L722.3,408.1 L723.9,406.5 L725.5,405.1 L727.5,404.3 L729.6,401.0 L731.7,401.1 L732.7,399.2 L733.8,397.5 L735.8,398.3 L737.9,401.1 L740.0,403.0 L742.5,401.8 L745.0,401.8 L747.5,400.8 L750.0,401.6 L752.5,403.7 L755.0,403.1 L757.5,406.4 L760.0,406.7 L762.5,404.7 L765.0,406.9 L767.5,404.9 L770.0,405.3 L772.5,406.4 L775.0,405.6 L777.5,407.4 L780.0,407.7 L781.6,410.3 L783.1,410.5 L784.7,413.9 L786.2,415.6 L787.3,418.0 L788.3,420.1 L789.4,421.3 L790.4,425.0 L791.5,427.1 L792.5,430.3 L794.0,432.5 L795.5,434.2 L797.0,435.0 L798.5,438.4 L800.0,440.2 L801.5,441.0 L803.0,445.2 L804.5,446.5 L806.0,446.9 L807.5,450.5 L809.4,450.2 L811.2,452.0 L813.1,454.4 L815.0,455.1 L816.2,457.7 L817.5,460.4 L818.8,462.4 L820.0,464.8 L822.5,484.6 L826.2,514.5 L828.8,550.3 L831.2,605.3 L832.5,711.1 L834.0,790.3 L835.0,959.8 L836.5,1006.7 L838.0,1006.9 L838.0,795.4 L838.5,1006.5 L840.0,1007.0 L841.5,959.7 L842.0,800.3 L846.5,767.8 L847.5,710.8 L850.0,612.4 L852.5,515.0 L855.0,437.8 L855.6,434.6 L856.2,433.5 L856.9,428.8 L857.5,426.8 L858.1,423.8 L858.8,421.3 L859.4,420.8 L860.0,417.8 L860.5,414.1 L860.9,411.6 L861.4,409.7 L861.9,408.2 L862.3,405.9 L862.8,403.2 L863.3,400.3 L863.8,397.1 L865.3,395.6 L866.9,393.5 L868.4,392.9 L870.0,391.3 L872.5,389.8 L875.0,388.9 L877.5,388.9 L880.0,387.2 L881.6,386.2 L883.1,384.5 L884.7,382.7 L886.2,379.9 L888.4,378.8 L890.6,377.6 L892.8,376.5 L895.0,375.3 L897.5,374.1 L900.0,372.1 L902.5,371.5 L905.0,371.1 L907.5,371.2 L910.0,371.2 L912.5,369.8 L915.0,371.0 L917.5,370.7 L920.0,370.3 L922.5,370.2 L925.0,370.0 L927.5,369.4 L930.0,370.1 L932.5,369.2 L935.0,370.0 L937.5,370.3 L940.0,369.9 L942.5,370.1 L945.0,370.3 L947.5,370.1 L950.0,368.1 L952.5,368.7 L955.0,367.7 L957.5,366.1 L960.0,366.0 L962.5,365.1 L965.0,364.7 L967.5,364.8 L970.0,365.1 L972.5,363.7 L975.0,364.0 L977.5,364.2 L980.0,363.3 L982.5,364.8 L985.0,364.4 L987.5,365.1 L990.0,364.9 L992.5,365.1 L995.0,364.5 L997.5,365.4 L1000.0,365.3 L1002.5,365.6 L1005.0,364.8 L1007.5,365.4 L1010.0,364.9 L1012.5,364.2 L1015.0,364.0 L1017.5,364.1 L1020.0,364.3 L1022.5,364.2 L1025.0,364.7 L1027.5,365.1 L1030.0,364.8 L1032.5,364.5 L1035.0,364.9 L1037.5,364.3 L1040.0,364.5 L1042.5,365.0 L1045.0,364.4 L1047.5,364.0 L1050.0,364.8 L1052.5,364.9 L1055.0,364.4 L1057.5,364.4 L1060.0,364.8 L1062.5,364.9 L1065.0,364.3 L1067.5,364.0 L1070.0,364.4 L1072.5,365.5 L1075.0,364.7 L1077.5,364.9 L1080.0,364.3 L1082.5,364.3 L1085.0,364.2 L1087.5,364.5 L1090.0,364.0 L1092.5,363.7 L1095.0,363.8 L1097.5,363.8 L1100.0,364.4 L1102.5,363.5 L1105.0,363.4 L1107.5,364.1 L1110.0,364.0 L1112.5,364.4 L1115.0,363.2 L1117.5,363.8 L1120.0,363.7 L1122.5,363.0 L1125.0,364.1 L1127.5,363.0 L1130.0,362.6 L1132.5,363.1 L1135.0,362.3 L1137.5,362.9 L1140.0,362.4 L1142.5,360.3 L1145.0,358.7 L1147.5,358.2 L1149.3,356.3 L1151.2,356.0 L1153.0,354.2 L1154.5,356.9 L1156.0,357.7 L1157.5,359.8 L1160.0,361.1 L1162.5,363.2 L1165.0,363.2 L1167.5,362.7 L1169.9,362.3 L1172.4,363.3 L1174.9,363.8 L1177.3,363.2 L1179.8,362.1 L1182.3,362.2 L1184.8,362.3 L1187.2,362.4 L1189.7,362.2 L1192.2,362.2 L1194.7,363.3 L1197.2,363.7 L1199.6,362.5 L1202.1,363.9 L1204.6,363.0 L1207.0,363.5 L1209.5,363.8 L1212.0,363.3 L1214.6,362.3 L1217.2,362.9 L1219.8,363.6 L1222.4,364.4 L1225.0,363.5 L1227.5,363.9 L1230.0,365.4 L1232.5,364.6 L1235.0,365.6 L1237.5,366.1 L1240.0,366.3 L1242.5,366.5 L1245.0,364.9 L1247.5,365.7 L1250.0,365.4 L1252.5,365.4 L1255.0,364.6 L1257.5,365.0 L1260.0,363.8 L1262.5,363.7 L1265.0,363.4 L1267.5,364.5 L1270.0,364.1 L1272.5,363.8 L1275.0,363.8 L1277.5,364.9 L1280.0,364.8 L1282.5,365.1 L1285.0,364.7 L1287.5,365.0 L1290.0,364.4 L1292.5,365.4 L1295.0,364.1 L1297.5,364.9 L1300.0,365.5 L1302.5,365.3 L1305.0,364.3 L1307.5,364.5 L1310.0,365.6 L1312.5,365.1 L1315.0,366.0 L1317.5,366.4 L1320.0,366.0 L1322.5,367.1 L1325.0,367.2 L1327.5,366.8 L1330.0,367.4 L1332.5,366.7 L1335.0,367.3 L1337.5,368.3 L1340.0,366.8 L1342.5,367.6 L1345.0,366.8 L1347.5,366.7 L1350.0,367.7 L1352.5,366.8 L1355.0,366.3 L1357.5,366.6 L1360.0,367.9 L1362.5,367.7 L1365.0,366.2 L1367.5,366.8 L1370.0,368.7 L1372.5,367.2 L1375.0,368.9 L1377.5,369.8 L1380.0,371.5 L1382.5,372.8 L1385.0,374.5 L1387.5,375.0 L1389.4,376.7 L1391.2,379.7 L1391.8,381.4 L1392.2,385.8 L1392.8,386.5 L1393.2,388.8 L1393.8,393.0 L1394.7,394.2 L1395.6,398.5 L1396.6,398.9 L1397.5,402.5 L1399.2,403.9 L1400.8,407.5 L1402.5,408.9 L1405.0,407.9 L1407.5,406.5 L1409.6,406.0 L1411.7,403.3 L1413.8,402.6 L1415.9,401.7 L1418.0,400.8 L1419.1,404.6 L1420.2,406.5 L1421.2,409.1 L1422.2,410.2 L1423.1,413.2 L1424.1,415.2 L1425.0,417.7 L1425.6,418.9 L1426.2,422.1 L1426.9,425.0 L1427.5,426.4 L1428.1,430.1 L1428.8,432.7 L1429.4,434.8 L1430.0,437.9 L1430.6,440.3 L1431.2,441.8 L1431.9,444.6 L1432.5,448.0 L1433.1,449.3 L1433.8,451.8 L1434.4,453.2 L1435.0,456.2 L1435.6,453.4 L1436.2,453.1 L1436.9,450.3 L1437.5,447.9 L1438.0,446.3 L1438.5,442.8 L1439.0,441.1 L1439.5,437.6 L1440.0,434.8 L1440.5,433.0 L1442.1,431.0 L1443.8,428.0 L1445.0,430.0 L1446.2,433.2 L1447.5,434.9 L1449.4,438.8 L1451.2,440.4 L1453.1,438.8 L1455.0,439.2 L1455.9,435.7 L1456.9,433.3 L1457.8,432.8 L1458.8,429.8 L1459.6,427.6 L1460.4,425.4 L1461.2,422.0 L1463.1,420.6 L1465.0,417.3 L1466.2,414.8 L1467.5,412.1 L1468.8,410.3 L1469.7,408.1 L1470.6,404.4 L1471.6,401.5 L1472.5,399.8 L1473.1,397.3 L1473.8,393.9 L1474.4,391.6 L1475.0,390.3 L1476.9,388.0 L1478.8,385.5 L1480.0,384.2 L1481.2,381.8 L1482.5,378.6 L1485.0,376.0 L1487.5,374.8 L1490.0,374.5 L1492.5,374.2 L1495.0,373.8 L1497.5,374.6 L1500.0,376.6 L1502.5,374.4 L1505.0,373.7 L1506.9,376.0 L1508.8,377.0 L1510.6,377.0 L1512.5,378.5 L1515.0,378.7 L1517.5,375.8 L1520.0,375.9 L1522.5,376.3 L1525.0,376.3 L1527.5,375.4 L1530.0,375.1 L1532.5,375.9 L1535.0,377.0 L1537.5,376.3 L1540.0,377.6 L1542.5,377.2 L1545.0,377.0 L1547.5,376.0 L1550.0,377.2 L1552.5,377.5 L1555.0,379.4 L1557.5,379.4 L1560.0,379.0 L1562.5,380.6 L1565.0,379.8 L1567.5,380.7 L1570.0,381.2 L1572.5,382.3 L1575.0,381.3 L1577.5,380.9 L1580.0,380.3 L1582.5,381.4 L1585.0,382.3 L1587.5,383.0 L1590.0,384.1 L1592.5,384.3 L1595.0,383.7 L1597.5,383.6 L1600.0,385.7 L1602.5,386.4 L1605.0,386.2 L1607.5,387.5 L1610.0,387.3 L1612.5,387.5 L1615.0,387.1 L1617.5,387.0 L1620.0,388.9 L1622.5,389.8 L1625.0,389.4 L1627.5,388.7 L1630.0,388.9 L1632.5,389.4 L1635.0,388.8 L1637.5,387.9 L1640.0,388.0 L1642.5,388.8 L1645.0,388.4 L1647.5,388.9 L1650.0,390.4 L1652.5,391.5 L1655.0,390.4 L1657.5,390.0 L1660.0,389.9 L1662.5,390.2 L1665.0,391.2 L1667.5,390.4 L1670.0,391.8 L1672.5,390.4 L1675.0,391.7 L1677.5,393.6 L1680.0,394.9 L1682.1,397.6 L1684.2,399.2 L1686.2,400.4 L1688.7,400.3 L1691.1,398.8 L1693.5,400.1 L1695.4,398.6 L1697.2,396.8 L1699.1,394.7 L1701.0,394.0 L1703.0,393.3 L1705.0,389.7 L1707.0,389.7 L1709.0,387.4 L1711.0,386.3 L1713.5,386.8 L1716.0,386.4 L1718.5,385.1 L1721.0,383.5 L1723.5,384.2 L1726.0,382.7 L1728.5,382.9 L1731.0,383.9 L1733.5,382.3 L1736.0,382.3 L1738.5,382.7 L1741.0,381.7 L1743.5,379.0 L1746.0,378.2 L1748.5,377.3 L1751.0,375.8 L1753.5,375.4 L1756.0,376.5 L1758.5,373.4 L1761.0,373.5 L1763.5,372.5 L1766.0,371.7 L1768.5,372.3 L1771.0,372.4 L1773.5,371.6 L1775.4,370.3 L1777.2,369.6 L1779.1,366.2 L1781.0,366.0 L1783.5,367.8 L1786.0,365.8 L1788.5,366.6 L1791.0,367.5 L1792.9,365.3 L1794.8,364.5 L1796.6,361.6 L1798.5,361.0 L1800.4,360.9 L1802.2,357.2 L1804.1,357.6 L1806.0,354.7 L1807.9,355.0 L1809.8,353.0 L1811.6,351.6 L1813.5,349.6 L1816.0,348.2 L1818.5,349.4 L1821.0,347.3 L1823.5,347.2 L1826.0,348.6 L1828.5,349.0 L1831.0,347.1 L1833.5,349.7 L1836.0,348.8 L1838.5,347.6 L1841.0,346.1 L1843.5,346.1 L1846.0,348.8 L1848.5,348.2 L1851.0,349.6 L1853.5,349.7 L1856.0,350.3 L1858.5,351.5 L1861.0,352.9 L1863.5,351.2 L1866.0,351.2 L1868.5,352.9 L1871.0,352.8 L1873.5,351.7 L1876.0,350.1 L1878.5,349.9 L1881.0,350.9 L1883.5,349.2 L1886.0,349.0 L1888.5,348.7 L1891.0,348.3 L1893.5,349.8 L1896.0,351.3 L1898.5,352.0 L1901.0,352.1 L1903.5,352.5 L1906.0,353.8 L1908.5,354.8 L1911.0,356.3 L1913.5,355.9 L1916.0,353.0 L1918.5,352.6 L1921.0,351.8 L1923.5,349.1 L1926.0,348.2 L1928.5,350.6 L1931.0,350.6 L1933.5,349.7 L1936.0,350.2 L1938.5,350.9 L1941.0,352.0 L1943.5,354.2 L1946.0,353.1 L1948.5,354.1 L1951.0,353.2 L1953.5,353.3 L1956.0,355.4 L1958.2,355.5 L1960.5,355.7 L1962.8,354.5 L1965.0,353.8" fill="none" stroke="#0000ff" stroke-width="5" stroke-linejoin="round" stroke-linecap="butt"/>
<path d="M283.2,521.3 L286.3,481.0 L290.0,528.0 L288.8,483.7 L293.8,547.6 L295.4,546.3 L296.9,550.7 L295.1,492.0 L295.5,491.4 L295.9,493.6 L296.3,502.0 L296.7,500.2 L297.1,505.6 L297.6,505.1 L298.0,508.8 L298.4,507.3 L298.8,513.6 L299.2,517.8 L299.6,517.5 L300.1,520.5 L300.7,481.4 L302.1,479.9 L303.6,487.9 L305.1,488.7 L307.6,456.4 L309.5,454.6 L311.3,460.4 L312.6,485.8 L313.3,484.7 L314.1,483.1 L314.8,479.6 L315.6,478.4 L316.3,473.1 L318.2,495.4 L320.4,494.3 L322.6,495.7 L323.5,494.4 L324.5,487.2 L325.4,484.9 L326.4,483.9 L326.8,485.1 L327.2,479.6 L327.6,478.5 L328.0,474.2 L328.5,473.2 L328.9,470.6 L330.7,468.7 L332.6,468.8 L334.5,467.6 L336.4,466.8 L336.8,464.7 L337.1,463.9 L337.5,461.2 L337.9,459.8 L338.3,455.0 L340.1,452.5 L342.0,455.4 L343.1,459.4 L344.1,461.2 L345.2,461.0 L347.0,478.9 L349.8,476.6 L352.7,479.1 L353.3,476.5 L353.9,472.5 L354.5,468.8 L355.2,471.3 L355.8,469.8 L356.4,463.6 L358.5,465.1 L360.6,461.5 L362.7,460.0 L363.6,457.1 L364.6,457.4 L365.5,455.5 L366.4,449.7 L367.2,449.2 L367.9,443.6 L368.7,445.3 L369.4,440.8 L370.2,440.4 L372.7,442.8 L375.2,440.4 L377.7,442.0 L379.0,441.3 L380.2,441.6 L381.5,446.0 L382.2,445.2 L383.0,448.5 L383.7,452.0 L384.5,455.5 L385.2,456.2 L385.8,456.6 L386.3,463.9 L386.8,462.9 L387.4,469.1 L387.9,471.1 L388.5,470.3 L389.0,473.2 L390.9,490.9 L393.4,516.3 L395.6,539.3 L399.0,516.1 L400.3,497.4 L401.0,497.5 L401.7,492.6 L402.5,489.8 L403.2,489.3 L403.9,484.1 L404.6,482.9 L405.5,454.4 L407.0,450.9 L408.4,448.4 L410.8,445.4 L413.2,447.8 L415.5,448.8 L417.9,445.4 L420.3,448.6 L422.8,466.1 L425.1,489.8 L426.6,520.0 L429.7,582.9 L432.8,545.0 L435.3,515.7 L437.2,515.5 L439.1,513.8 L441.6,492.6 L442.8,494.1 L444.1,499.1 L445.4,501.6 L446.0,534.3 L447.2,536.6 L448.5,539.3 L449.7,540.7 L451.0,559.5 L451.3,561.3 L451.7,563.9 L452.1,567.1 L452.4,568.3 L452.8,570.9 L453.1,574.8 L453.5,575.3 L456.0,547.0 L457.2,584.5 L458.8,598.0 L465.1,646.9 L468.2,701.5 L469.5,775.6 L470.5,818.0 L472.0,818.4 L472.8,776.3 L474.0,700.4 L474.4,590.7 L476.2,555.7 L477.5,504.0 L478.8,500.8 L480.0,499.1 L481.9,499.7 L483.8,503.2 L484.2,506.6 L484.8,510.0 L485.2,510.8 L485.8,512.4 L486.2,515.4 L487.2,518.6 L488.1,519.8 L489.1,524.7 L490.0,526.5 L492.5,543.0 L493.0,545.1 L493.5,549.7 L494.0,551.6 L494.5,554.7 L495.0,555.8 L497.0,580.4 L497.6,688.4 L498.3,692.3 L499.1,692.7 L499.8,695.5 L500.5,698.2 L501.2,700.9 L502.0,850.9 L505.0,876.7 L506.5,936.7 L509.0,936.5 L510.5,876.7 L510.9,875.0 L511.3,872.9 L511.7,868.2 L512.1,867.8 L512.4,865.2 L512.8,859.9 L513.2,859.5 L513.6,857.3 L514.0,853.8 L515.0,701.0 L514.4,697.1 L513.9,694.7 L515.2,625.6 L516.6,622.3 L518.1,622.2 L519.5,619.5 L519.9,623.6 L520.3,623.0 L520.7,628.9 L521.1,630.6 L521.5,634.0 L521.9,636.4 L522.3,638.9 L522.7,640.2 L523.1,640.4 L523.5,645.8 L523.9,646.8 L526.4,678.4 L528.9,701.2 L527.5,701.0 L528.8,750.9 L529.5,791.7 L531.5,791.2 L532.5,750.7 L533.8,700.6 L533.9,666.7 L537.7,641.1 L538.6,644.7 L539.6,645.5 L540.5,647.4 L541.5,651.2 L542.7,701.5 L543.0,700.5 L544.5,801.5 L545.5,861.7 L547.5,861.5 L548.5,801.5 L550.0,700.2 L550.8,611.2 L551.4,610.0 L551.9,604.2 L552.5,602.6 L553.0,600.1 L553.6,598.6 L554.1,595.7 L554.7,593.4 L555.2,591.4 L554.5,582.7 L556.0,579.8 L557.5,579.2 L558.0,580.5 L558.5,582.5 L559.0,588.4 L559.5,590.2 L560.0,590.3 L560.2,591.0 L564.0,653.3 L567.8,700.7 L567.0,700.8 L568.5,751.2 L569.5,791.1 L571.5,790.8 L575.0,750.5 L576.5,700.7 L577.8,668.1 L578.6,666.5 L579.3,664.8 L580.1,661.1 L580.9,657.6 L581.7,655.6 L582.5,654.1 L583.3,652.6 L584.0,650.3 L584.6,651.7 L585.1,655.7 L585.6,657.3 L586.2,658.9 L586.7,661.0 L587.3,663.8 L587.8,666.5 L590.3,700.8 L590.5,701.3 L592.0,750.9 L593.0,785.6 L595.0,786.1 L596.0,751.3 L597.0,700.3 L596.6,663.5 L600.3,638.5 L601.1,642.6 L601.8,645.4 L602.6,645.6 L603.3,650.2 L604.1,651.6 L606.6,700.6 L607.0,700.9 L608.8,775.4 L610.0,836.5 L612.5,876.3 L614.5,841.6 L616.5,876.5 L619.0,841.3 L621.2,776.4 L625.0,726.1 L627.0,700.4 L626.6,638.7 L630.4,597.7 L635.3,538.4 L637.8,502.0 L638.2,497.3 L638.7,495.0 L639.2,492.5 L639.7,493.2 L640.1,487.9 L640.6,484.8 L641.1,485.6 L641.5,481.1 L642.6,481.0 L643.7,478.2 L644.8,476.7 L645.9,473.9 L646.5,475.8 L647.2,479.0 L647.8,478.3 L648.4,483.6 L649.0,484.9 L649.7,488.0 L650.3,488.8 L651.6,514.9 L652.0,518.6 L652.5,517.5 L653.0,520.9 L653.4,524.2 L653.9,527.6 L654.4,527.6 L654.8,529.7 L655.3,532.9 L657.8,558.5 L658.4,561.7 L659.1,562.6 L659.7,564.9 L660.3,567.3 L660.9,569.5 L661.6,572.1 L662.2,573.1 L662.8,577.1 L663.5,581.6 L664.1,582.0 L664.7,586.0 L665.3,586.2 L666.0,591.0 L666.6,593.2 L666.2,649.6 L666.7,651.8 L667.2,654.0 L667.6,657.0 L668.1,660.4 L668.6,659.8 L669.0,662.0 L669.5,666.4 L671.2,619.9 L674.1,539.6 L675.4,511.9 L677.0,511.6 L678.7,508.2 L680.4,507.9 L680.8,504.7 L681.3,503.9 L681.8,500.4 L682.2,497.8 L682.7,497.3 L683.2,496.0 L683.6,491.0 L684.1,489.8 L684.9,486.6 L685.6,485.8 L686.4,482.3 L687.1,478.5 L687.9,476.5 L688.9,472.5 L689.9,471.8 L690.9,468.9 L691.9,465.6 L692.9,464.2 L695.4,462.4 L697.9,462.3 L698.3,462.9 L698.7,468.8 L699.1,469.3 L699.6,472.3 L700.0,474.3 L700.4,477.3 L700.9,480.4 L701.4,482.1 L701.9,484.3 L702.4,487.6 L702.9,489.8 L703.4,491.7 L704.0,495.3 L704.5,498.6 L705.1,499.8 L705.6,501.7 L706.1,504.3 L706.7,508.0 L707.2,505.8 L707.7,504.2 L708.2,501.4 L708.7,497.1 L709.2,494.5 L709.7,492.2 L710.2,489.6 L710.7,488.7 L711.2,486.7 L711.7,483.6 L714.2,457.8 L715.4,427.2 L716.2,423.7 L716.9,421.5 L717.7,419.9 L718.4,415.5 L719.2,413.7 L720.8,413.4 L722.3,409.8 L723.9,408.2 L725.5,406.8 L727.5,406.0 L729.6,402.7 L731.7,402.7 L732.7,400.9 L733.8,399.2 L735.8,400.0 L737.9,402.8 L740.0,404.7 L742.5,403.4 L745.0,403.5 L747.5,402.5 L750.0,403.2 L752.5,405.4 L755.0,404.7 L757.5,408.1 L760.0,408.4 L762.5,406.4 L765.0,408.6 L767.5,406.6 L770.0,407.0 L772.5,408.0 L775.0,407.3 L777.5,409.0 L780.0,409.3 L781.6,411.9 L783.1,412.2 L784.7,415.5 L786.2,417.2 L787.3,419.6 L788.3,421.7 L789.4,422.9 L790.4,426.6 L791.5,428.6 L792.5,431.8 L794.0,434.1 L795.5,435.8 L797.0,436.6 L798.5,440.0 L800.0,441.7 L801.5,442.6 L803.0,446.7 L804.5,448.0 L806.0,448.4 L807.5,452.0 L809.4,451.7 L811.2,453.5 L813.1,455.9 L815.0,456.6 L816.2,459.1 L817.5,461.9 L818.8,463.8 L820.0,466.2 L822.5,486.1 L826.2,515.9 L828.8,551.7 L831.2,606.7 L832.5,712.5 L834.0,791.7 L835.0,961.2 L836.5,1008.1 L838.0,1008.2 L838.0,796.8 L838.5,1007.8 L840.0,1008.4 L841.5,961.1 L842.0,801.7 L846.5,769.2 L847.5,712.1 L850.0,613.7 L852.5,516.4 L855.0,439.1 L855.6,435.9 L856.2,434.8 L856.9,430.1 L857.5,428.1 L858.1,425.1 L858.8,422.6 L859.4,422.1 L860.0,419.1 L860.5,415.3 L860.9,412.8 L861.4,411.0 L861.9,409.5 L862.3,407.2 L862.8,404.5 L863.3,401.5 L863.8,398.3 L865.3,396.9 L866.9,394.7 L868.4,394.1 L870.0,392.5 L872.5,391.0 L875.0,390.1 L877.5,390.2 L880.0,388.4 L881.6,387.4 L883.1,385.7 L884.7,383.9 L886.2,381.1 L888.4,380.0 L890.6,378.8 L892.8,377.7 L895.0,376.5 L897.5,375.3 L900.0,373.3 L902.5,372.7 L905.0,372.3 L907.5,372.4 L910.0,372.4 L912.5,371.0 L915.0,372.2 L917.5,371.9 L920.0,371.5 L922.5,371.4 L925.0,371.2 L927.5,370.6 L930.0,371.3 L932.5,370.4 L935.0,371.2 L937.5,371.5 L940.0,371.1 L942.5,371.3 L945.0,371.5 L947.5,371.3 L950.0,369.3 L952.5,369.9 L955.0,368.9 L957.5,367.3 L960.0,367.2 L962.5,366.3 L965.0,365.9 L967.5,366.0 L970.0,366.3 L972.5,364.9 L975.0,365.2 L977.5,365.4 L980.0,364.5 L982.5,366.0 L985.0,365.6 L987.5,366.3 L990.0,366.1 L992.5,366.3 L995.0,365.7 L997.5,366.6 L1000.0,366.5 L1002.5,366.8 L1005.0,366.0 L1007.5,366.6 L1010.0,366.1 L1012.5,365.4 L1015.0,365.2 L1017.5,365.3 L1020.0,365.5 L1022.5,365.4 L1025.0,365.9 L1027.5,366.3 L1030.0,366.0 L1032.5,365.7 L1035.0,366.1 L1037.5,365.5 L1040.0,365.7 L1042.5,366.2 L1045.0,365.6 L1047.5,365.2 L1050.0,366.0 L1052.5,366.1 L1055.0,365.6 L1057.5,365.6 L1060.0,366.0 L1062.5,366.1 L1065.0,365.5 L1067.5,365.2 L1070.0,365.6 L1072.5,366.7 L1075.0,365.9 L1077.5,366.1 L1080.0,365.5 L1082.5,365.5 L1085.0,365.4 L1087.5,365.7 L1090.0,365.2 L1092.5,364.9 L1095.0,365.0 L1097.5,365.0 L1100.0,365.6 L1102.5,364.7 L1105.0,364.6 L1107.5,365.3 L1110.0,365.2 L1112.5,365.6 L1115.0,364.4 L1117.5,365.0 L1120.0,364.9 L1122.5,364.2 L1125.0,365.3 L1127.5,364.2 L1130.0,363.8 L1132.5,364.3 L1135.0,363.5 L1137.5,364.1 L1140.0,363.6 L1142.5,361.5 L1145.0,359.9 L1147.5,359.4 L1149.3,357.5 L1151.2,357.2 L1153.0,355.4 L1154.5,358.1 L1156.0,358.9 L1157.5,361.0 L1160.0,362.3 L1162.5,364.4 L1165.0,364.4 L1167.5,363.9 L1169.9,363.5 L1172.4,364.5 L1174.9,365.0 L1177.3,364.4 L1179.8,363.3 L1182.3,363.4 L1184.8,363.5 L1187.2,363.6 L1189.7,363.4 L1192.2,363.4 L1194.7,364.5 L1197.2,364.9 L1199.6,363.7 L1202.1,365.1 L1204.6,364.2 L1207.0,364.7 L1209.5,365.0 L1212.0,364.5 L1214.6,363.5 L1217.2,364.1 L1219.8,364.8 L1222.4,365.6 L1225.0,364.7 L1227.5,365.1 L1230.0,366.6 L1232.5,365.8 L1235.0,366.8 L1237.5,367.3 L1240.0,367.5 L1242.5,367.7 L1245.0,366.1 L1247.5,366.9 L1250.0,366.6 L1252.5,366.6 L1255.0,365.8 L1257.5,366.2 L1260.0,365.0 L1262.5,364.9 L1265.0,364.6 L1267.5,365.7 L1270.0,365.3 L1272.5,365.0 L1275.0,365.0 L1277.5,366.1 L1280.0,366.0 L1282.5,366.3 L1285.0,365.9 L1287.5,366.2 L1290.0,365.6 L1292.5,366.6 L1295.0,365.3 L1297.5,366.1 L1300.0,366.7 L1302.5,366.5 L1305.0,365.5 L1307.5,365.7 L1310.0,366.8 L1312.5,366.3 L1315.0,367.2 L1317.5,367.6 L1320.0,367.2 L1322.5,368.3 L1325.0,368.4 L1327.5,368.0 L1330.0,368.6 L1332.5,367.9 L1335.0,368.5 L1337.5,369.5 L1340.0,368.0 L1342.5,368.9 L1345.0,368.1 L1347.5,368.1 L1350.0,369.1 L1352.5,368.3 L1355.0,367.9 L1357.5,368.2 L1360.0,369.6 L1362.5,369.5 L1365.0,368.1 L1367.5,368.7 L1370.0,370.7 L1372.5,369.2 L1375.0,371.0 L1377.5,371.9 L1380.0,373.7 L1382.5,375.0 L1385.0,376.7 L1387.5,377.2 L1389.4,378.9 L1391.2,381.9 L1391.8,383.6 L1392.2,388.0 L1392.8,388.7 L1393.2,391.0 L1393.8,395.2 L1394.7,396.4 L1395.6,400.7 L1396.6,401.1 L1397.5,404.7 L1399.2,406.1 L1400.8,409.7 L1402.5,411.1 L1405.0,410.1 L1407.5,408.7 L1409.6,408.2 L1411.7,405.5 L1413.8,404.8 L1415.9,403.9 L1418.0,403.0 L1419.1,406.8 L1420.2,408.7 L1421.2,411.3 L1422.2,412.4 L1423.1,415.4 L1424.1,417.4 L1425.0,419.9 L1425.6,421.1 L1426.2,424.3 L1426.9,427.2 L1427.5,428.6 L1428.1,432.3 L1428.8,434.9 L1429.4,437.0 L1430.0,440.1 L1430.6,442.5 L1431.2,444.0 L1431.9,446.8 L1432.5,450.2 L1433.1,451.5 L1433.8,454.0 L1434.4,455.4 L1435.0,458.4 L1435.6,455.6 L1436.2,455.3 L1436.9,452.5 L1437.5,450.1 L1438.0,448.5 L1438.5,445.0 L1439.0,443.3 L1439.5,439.8 L1440.0,437.0 L1440.5,435.2 L1442.1,433.2 L1443.8,430.2 L1445.0,432.2 L1446.2,435.4 L1447.5,437.1 L1449.4,441.0 L1451.2,442.6 L1453.1,441.0 L1455.0,441.4 L1455.9,437.9 L1456.9,435.5 L1457.8,435.0 L1458.8,432.0 L1459.6,429.8 L1460.4,427.6 L1461.2,424.2 L1463.1,422.8 L1465.0,419.5 L1466.2,417.0 L1467.5,414.3 L1468.8,412.5 L1469.7,410.3 L1470.6,406.7 L1471.6,403.7 L1472.5,402.1 L1473.1,399.6 L1473.8,396.2 L1474.4,393.9 L1475.0,392.6 L1476.9,390.4 L1478.8,387.9 L1480.0,386.6 L1481.2,384.3 L1482.5,381.2 L1485.0,378.6 L1487.5,377.5 L1490.0,377.2 L1492.5,377.0 L1495.0,376.7 L1497.5,377.6 L1500.0,379.6 L1502.5,377.4 L1505.0,376.7 L1506.9,379.0 L1508.8,380.0 L1510.6,380.0 L1512.5,381.5 L1515.0,381.7 L1517.5,378.8 L1520.0,378.9 L1522.5,379.3 L1525.0,379.3 L1527.5,378.4 L1530.0,378.1 L1532.5,378.9 L1535.0,380.0 L1537.5,379.3 L1540.0,380.6 L1542.5,380.2 L1545.0,380.0 L1547.5,379.0 L1550.0,380.2 L1552.5,380.5 L1555.0,382.4 L1557.5,382.4 L1560.0,382.0 L1562.5,383.6 L1565.0,382.8 L1567.5,383.7 L1570.0,384.2 L1572.5,385.3 L1575.0,384.3 L1577.5,383.9 L1580.0,383.3 L1582.5,384.4 L1585.0,385.3 L1587.5,386.0 L1590.0,387.1 L1592.5,387.3 L1595.0,386.7 L1597.5,386.6 L1600.0,388.7 L1602.5,389.4 L1605.0,389.2 L1607.5,390.5 L1610.0,390.3 L1612.5,390.5 L1615.0,390.1 L1617.5,390.0 L1620.0,391.9 L1622.5,392.8 L1625.0,392.4 L1627.5,391.7 L1630.0,391.9 L1632.5,392.4 L1635.0,391.8 L1637.5,390.9 L1640.0,391.0 L1642.5,391.8 L1645.0,391.4 L1647.5,391.9 L1650.0,393.4 L1652.5,394.5 L1655.0,393.4 L1657.5,393.0 L1660.0,392.9 L1662.5,393.2 L1665.0,394.2 L1667.5,393.4 L1670.0,394.8 L1672.5,393.4 L1675.0,394.7 L1677.5,396.6 L1680.0,397.9 L1682.1,400.6 L1684.2,402.2 L1686.2,403.4 L1688.7,403.3 L1691.1,401.8 L1693.5,403.1 L1695.4,401.6 L1697.2,399.8 L1699.1,397.7 L1701.0,397.0 L1703.0,396.3 L1705.0,392.7 L1707.0,392.7 L1709.0,390.4 L1711.0,389.3 L1713.5,389.8 L1716.0,389.4 L1718.5,388.1 L1721.0,386.5 L1723.5,387.2 L1726.0,385.7 L1728.5,385.9 L1731.0,386.9 L1733.5,385.3 L1736.0,385.3 L1738.5,385.7 L1741.0,384.7 L1743.5,382.0 L1746.0,381.2 L1748.5,380.3 L1751.0,378.8 L1753.5,378.4 L1756.0,379.5 L1758.5,376.4 L1761.0,376.5 L1763.5,375.5 L1766.0,374.7 L1768.5,375.3 L1771.0,375.4 L1773.5,374.6 L1775.4,373.3 L1777.2,372.6 L1779.1,369.2 L1781.0,369.0 L1783.5,370.8 L1786.0,368.8 L1788.5,369.6 L1791.0,370.5 L1792.9,368.3 L1794.8,367.5 L1796.6,364.6 L1798.5,364.0 L1800.4,363.9 L1802.2,360.2 L1804.1,360.6 L1806.0,357.7 L1807.9,358.0 L1809.8,356.0 L1811.6,354.6 L1813.5,352.6 L1816.0,351.2 L1818.5,352.4 L1821.0,350.3 L1823.5,350.2 L1826.0,351.6 L1828.5,352.0 L1831.0,350.1 L1833.5,352.7 L1836.0,351.8 L1838.5,350.6 L1841.0,349.1 L1843.5,349.1 L1846.0,351.8 L1848.5,351.2 L1851.0,352.6 L1853.5,352.7 L1856.0,353.3 L1858.5,354.5 L1861.0,355.9 L1863.5,354.2 L1866.0,354.2 L1868.5,355.9 L1871.0,355.8 L1873.5,354.7 L1876.0,353.1 L1878.5,352.9 L1881.0,353.9 L1883.5,352.2 L1886.0,352.0 L1888.5,351.7 L1891.0,351.3 L1893.5,352.8 L1896.0,354.3 L1898.5,355.0 L1901.0,355.1 L1903.5,355.5 L1906.0,356.8 L1908.5,357.8 L1911.0,359.3 L1913.5,358.9 L1916.0,356.0 L1918.5,355.6 L1921.0,354.8 L1923.5,352.1 L1926.0,351.2 L1928.5,353.6 L1931.0,353.6 L1933.5,352.7 L1936.0,353.2 L1938.5,353.9 L1941.0,355.0 L1943.5,357.2 L1946.0,356.1 L1948.5,357.1 L1951.0,356.2 L1953.5,356.3 L1956.0,358.4 L1958.2,358.5 L1960.5,358.7 L1962.8,357.5 L1965.0,356.8" fill="none" stroke="#0000ff" stroke-width="5" stroke-linejoin="round" stroke-linecap="butt"/>
<line x1="619.2" y1="956.5" x2="619.2" y2="1293" stroke="#0d69c4" stroke-width="5.4" stroke-dasharray="16.2 7.6"/>
<line x1="838" y1="1129.5" x2="838" y2="1293" stroke="#0d69c4" stroke-width="5.4" stroke-dasharray="16.2 7.6"/>
<line x1="1436.6" y1="491.5" x2="1436.6" y2="1293" stroke="#0d69c4" stroke-width="5.4" stroke-dasharray="16.2 7.6"/>
<line x1="1686.6" y1="425.2" x2="1686.6" y2="1293" stroke="#0d69c4" stroke-width="5.4" stroke-dasharray="16.2 7.6"/>
<text class="tick" transform="translate(482.9,1375.8) scale(0.927,1)" text-anchor="middle">1000</text>
<text class="tick" transform="translate(975.4,1375.8) scale(0.927,1)" text-anchor="middle">2000</text>
<text class="tick" transform="translate(1469.3,1375.8) scale(0.927,1)" text-anchor="middle">3000</text>
<text class="tick" transform="translate(1964.9,1375.8) scale(0.927,1)" text-anchor="middle">4000</text>
<text class="tick" transform="translate(218.5,65.5) scale(0.916,1)" text-anchor="end">120</text>
<text class="tick" transform="translate(218.5,419.8) scale(0.916,1)" text-anchor="end">100</text>
<text class="tick" transform="translate(218.5,775.8) scale(0.916,1)" text-anchor="end">80</text>
<text class="tick" transform="translate(218.5,1127.3) scale(0.916,1)" text-anchor="end">60</text>
<line x1="308.5" y1="117.8" x2="420" y2="117.8" stroke="#000" stroke-width="4.8"/>
<line x1="308.5" y1="181.7" x2="420" y2="181.7" stroke="#0000ff" stroke-width="4.8"/>
<text class="leg" y="136"><tspan x="442.5" textLength="181.0" lengthAdjust="spacing">Original</tspan> <tspan x="641.2" textLength="157.2" lengthAdjust="spacing">P(3HB-</tspan><tspan x="797.0" font-style="italic">co</tspan><tspan x="850.0" textLength="82.5" lengthAdjust="spacing">-4.8</tspan> <tspan x="942.5" textLength="257.5" lengthAdjust="spacing">mol%3HHx)</tspan></text>
<text class="leg" y="197.5"><tspan x="443.8" textLength="191.2" lengthAdjust="spacing">Blended</tspan> <tspan x="647.5" textLength="153.0" lengthAdjust="spacing">P(3HB-</tspan><tspan x="800.5" font-style="italic">co</tspan><tspan x="853.5" textLength="106.5" lengthAdjust="spacing">-5.96</tspan> <tspan x="977.5" textLength="255.0" lengthAdjust="spacing">mol%3HHx)</tspan></text>
<text class="ttl" y="1481" font-size="61"><tspan x="833" textLength="368.5" lengthAdjust="spacingAndGlyphs">Wavenumber</tspan> <tspan x="1213.5" textLength="173" lengthAdjust="spacingAndGlyphs">(cm-1)</tspan></text>
<text class="ttl" transform="translate(84.5,667) rotate(-90) scale(0.953,1)" font-size="61.5" text-anchor="middle">Transmittance (%)</text>
<text font-size="46"><tspan class="ann" x="407.07" y="1080.5" textLength="27.38" lengthAdjust="spacingAndGlyphs">C</tspan><tspan class="annd" x="437.40" y="1075.9" textLength="30.60" lengthAdjust="spacingAndGlyphs">—</tspan><tspan class="ann" x="472.75" y="1080.5" textLength="32.23" lengthAdjust="spacingAndGlyphs">O</tspan><tspan class="annd" x="511.00" y="1075.9" textLength="30.70" lengthAdjust="spacingAndGlyphs">—</tspan><tspan class="ann" x="545.50" y="1080.5" textLength="26.93" lengthAdjust="spacingAndGlyphs">C</tspan></text>
<text font-size="46"><tspan class="ann" x="707.17" y="1076.7" textLength="25.90" lengthAdjust="spacingAndGlyphs">C</tspan><tspan class="annd" x="734.31" y="1076.5" textLength="36.77" lengthAdjust="spacingAndGlyphs">=</tspan><tspan class="ann" x="772.74" y="1076.7" textLength="32.46" lengthAdjust="spacingAndGlyphs">O</tspan></text>
<text font-size="46"><tspan class="ann" x="1305.31" y="1076.7" textLength="26.70" lengthAdjust="spacingAndGlyphs">C</tspan><tspan class="annd" x="1332.68" y="1076.5" textLength="37.13" lengthAdjust="spacingAndGlyphs">=</tspan><tspan class="ann" x="1371.03" y="1076.7" textLength="32.30" lengthAdjust="spacingAndGlyphs">H</tspan></text>
<text font-size="46"><tspan class="ann" x="1546.16" y="1076.7" textLength="33.71" lengthAdjust="spacingAndGlyphs">O</tspan><tspan class="annd" x="1583.50" y="1072.1" textLength="31.60" lengthAdjust="spacingAndGlyphs">—</tspan><tspan class="ann" x="1618.97" y="1076.7" textLength="32.82" lengthAdjust="spacingAndGlyphs">H</tspan></text>
<text class="ann" transform="translate(576,1274.5) rotate(-90)" font-size="46" textLength="159" lengthAdjust="spacingAndGlyphs">1259.29</text>
<text class="ann" transform="translate(803,1274.5) rotate(-90)" font-size="46" textLength="159" lengthAdjust="spacingAndGlyphs">1718.26</text>
<text class="ann" transform="translate(1401,1274.5) rotate(-90)" font-size="46" textLength="159" lengthAdjust="spacingAndGlyphs">2910.06</text>
<text class="ann" transform="translate(1650.5,1274.5) rotate(-90)" font-size="46" textLength="159" lengthAdjust="spacingAndGlyphs">3408.59</text>
</svg></body></html>
